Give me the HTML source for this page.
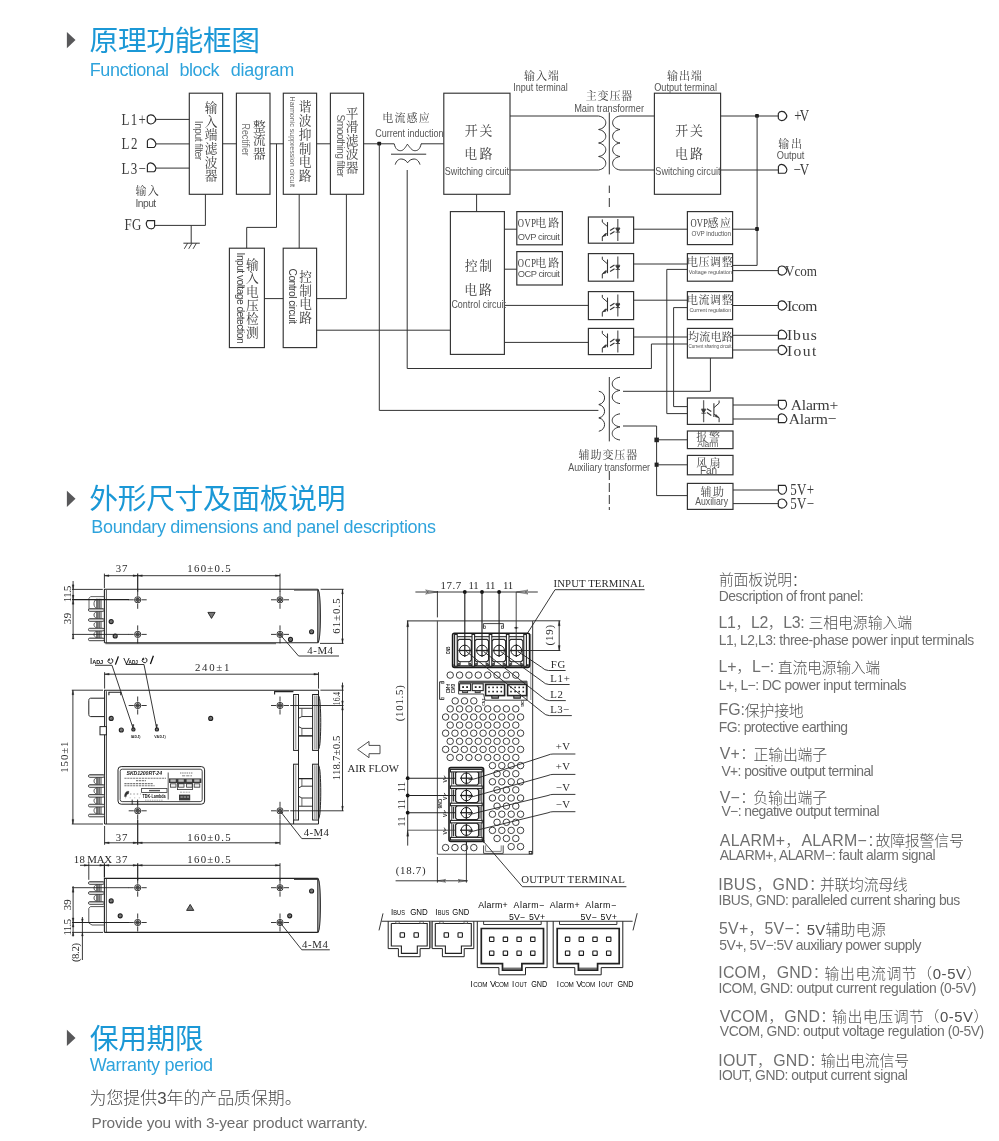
<!DOCTYPE html>
<html lang="zh-CN">
<head>
<meta charset="utf-8">
<title>原理功能框图 Functional block diagram</title>
<style>
html, body { margin: 0; padding: 0; background: #fff; }
body { width: 999px; height: 1141px; overflow: hidden; font-family: "Liberation Sans", "Noto Sans CJK SC", sans-serif; }
svg { display: block; will-change: transform; }
svg text { white-space: pre; }
</style>
</head>
<body>
<svg width="999" height="1141" viewBox="0 0 999 1141">
<path d="M66.90 32.00 L75.50 40.10 L66.90 48.20 Z" fill="#58585a" stroke="none" stroke-width="0" stroke-linejoin="miter"/>
<path d="M66.90 490.70 L75.50 498.80 L66.90 506.90 Z" fill="#58585a" stroke="none" stroke-width="0" stroke-linejoin="miter"/>
<path d="M66.90 1029.80 L75.50 1037.90 L66.90 1046.00 Z" fill="#58585a" stroke="none" stroke-width="0" stroke-linejoin="miter"/>
<rect x="189.30" y="93.20" width="33.30" height="101.10" fill="none" stroke="#333" stroke-width="1.15"/>
<rect x="236.40" y="93.20" width="33.60" height="101.10" fill="none" stroke="#333" stroke-width="1.15"/>
<rect x="283.30" y="93.20" width="33.30" height="101.10" fill="none" stroke="#333" stroke-width="1.15"/>
<rect x="330.40" y="93.20" width="33.20" height="101.10" fill="none" stroke="#333" stroke-width="1.15"/>
<rect x="443.80" y="93.20" width="66.20" height="101.10" fill="none" stroke="#333" stroke-width="1.15"/>
<rect x="654.40" y="93.20" width="66.20" height="101.10" fill="none" stroke="#333" stroke-width="1.15"/>
<rect x="229.40" y="248.20" width="35.00" height="99.40" fill="none" stroke="#333" stroke-width="1.15"/>
<rect x="283.20" y="248.20" width="33.40" height="99.40" fill="none" stroke="#333" stroke-width="1.15"/>
<rect x="450.40" y="211.60" width="54.00" height="142.80" fill="none" stroke="#333" stroke-width="1.15"/>
<rect x="516.80" y="211.60" width="45.60" height="33.20" fill="none" stroke="#333" stroke-width="1.2"/>
<rect x="516.80" y="251.60" width="45.60" height="33.40" fill="none" stroke="#333" stroke-width="1.2"/>
<rect x="588.40" y="217.00" width="45.20" height="26.20" fill="none" stroke="#333" stroke-width="1.2"/>
<path d="M602.30 219.40 L602.30 222.10 L607.50 226.60" fill="none" stroke="#333" stroke-width="1.0" stroke-linejoin="miter"/>
<line x1="607.50" y1="222.10" x2="607.50" y2="235.90" stroke="#333" stroke-width="1.1" stroke-linecap="butt"/>
<path d="M607.50 233.10 L602.30 236.70 L602.30 241.10" fill="none" stroke="#333" stroke-width="1.0" stroke-linejoin="miter"/>
<path d="M602.60 236.40 L605.50 233.30 L605.90 235.70 Z" fill="#333" stroke="#333" stroke-width="0.6" stroke-linejoin="miter"/>
<line x1="617.80" y1="219.10" x2="617.80" y2="241.10" stroke="#666" stroke-width="1.3" stroke-linecap="butt"/>
<path d="M615.70 228.50 L619.90 228.50 L617.80 231.70 Z" fill="#333" stroke="#333" stroke-width="0.8" stroke-linejoin="miter"/>
<line x1="615.60" y1="232.10" x2="620.00" y2="232.10" stroke="#333" stroke-width="0.9" stroke-linecap="butt"/>
<line x1="615.60" y1="227.90" x2="620.00" y2="227.90" stroke="#333" stroke-width="0.7" stroke-linecap="butt"/>
<line x1="610.10" y1="230.50" x2="614.50" y2="227.70" stroke="#333" stroke-width="1.2" stroke-linecap="butt"/>
<line x1="610.10" y1="234.30" x2="614.50" y2="231.50" stroke="#333" stroke-width="1.2" stroke-linecap="butt"/>
<rect x="588.40" y="253.60" width="45.20" height="27.60" fill="none" stroke="#333" stroke-width="1.2"/>
<path d="M602.30 256.70 L602.30 259.40 L607.50 263.90" fill="none" stroke="#333" stroke-width="1.0" stroke-linejoin="miter"/>
<line x1="607.50" y1="259.40" x2="607.50" y2="273.20" stroke="#333" stroke-width="1.1" stroke-linecap="butt"/>
<path d="M607.50 270.40 L602.30 274.00 L602.30 278.40" fill="none" stroke="#333" stroke-width="1.0" stroke-linejoin="miter"/>
<path d="M602.60 273.70 L605.50 270.60 L605.90 273.00 Z" fill="#333" stroke="#333" stroke-width="0.6" stroke-linejoin="miter"/>
<line x1="617.80" y1="256.40" x2="617.80" y2="278.40" stroke="#666" stroke-width="1.3" stroke-linecap="butt"/>
<path d="M615.70 265.80 L619.90 265.80 L617.80 269.00 Z" fill="#333" stroke="#333" stroke-width="0.8" stroke-linejoin="miter"/>
<line x1="615.60" y1="269.40" x2="620.00" y2="269.40" stroke="#333" stroke-width="0.9" stroke-linecap="butt"/>
<line x1="615.60" y1="265.20" x2="620.00" y2="265.20" stroke="#333" stroke-width="0.7" stroke-linecap="butt"/>
<line x1="610.10" y1="267.80" x2="614.50" y2="265.00" stroke="#333" stroke-width="1.2" stroke-linecap="butt"/>
<line x1="610.10" y1="271.60" x2="614.50" y2="268.80" stroke="#333" stroke-width="1.2" stroke-linecap="butt"/>
<rect x="588.40" y="291.60" width="45.20" height="28.00" fill="none" stroke="#333" stroke-width="1.2"/>
<path d="M602.30 294.90 L602.30 297.60 L607.50 302.10" fill="none" stroke="#333" stroke-width="1.0" stroke-linejoin="miter"/>
<line x1="607.50" y1="297.60" x2="607.50" y2="311.40" stroke="#333" stroke-width="1.1" stroke-linecap="butt"/>
<path d="M607.50 308.60 L602.30 312.20 L602.30 316.60" fill="none" stroke="#333" stroke-width="1.0" stroke-linejoin="miter"/>
<path d="M602.60 311.90 L605.50 308.80 L605.90 311.20 Z" fill="#333" stroke="#333" stroke-width="0.6" stroke-linejoin="miter"/>
<line x1="617.80" y1="294.60" x2="617.80" y2="316.60" stroke="#666" stroke-width="1.3" stroke-linecap="butt"/>
<path d="M615.70 304.00 L619.90 304.00 L617.80 307.20 Z" fill="#333" stroke="#333" stroke-width="0.8" stroke-linejoin="miter"/>
<line x1="615.60" y1="307.60" x2="620.00" y2="307.60" stroke="#333" stroke-width="0.9" stroke-linecap="butt"/>
<line x1="615.60" y1="303.40" x2="620.00" y2="303.40" stroke="#333" stroke-width="0.7" stroke-linecap="butt"/>
<line x1="610.10" y1="306.00" x2="614.50" y2="303.20" stroke="#333" stroke-width="1.2" stroke-linecap="butt"/>
<line x1="610.10" y1="309.80" x2="614.50" y2="307.00" stroke="#333" stroke-width="1.2" stroke-linecap="butt"/>
<rect x="588.40" y="328.40" width="45.20" height="26.20" fill="none" stroke="#333" stroke-width="1.2"/>
<path d="M602.30 330.80 L602.30 333.50 L607.50 338.00" fill="none" stroke="#333" stroke-width="1.0" stroke-linejoin="miter"/>
<line x1="607.50" y1="333.50" x2="607.50" y2="347.30" stroke="#333" stroke-width="1.1" stroke-linecap="butt"/>
<path d="M607.50 344.50 L602.30 348.10 L602.30 352.50" fill="none" stroke="#333" stroke-width="1.0" stroke-linejoin="miter"/>
<path d="M602.60 347.80 L605.50 344.70 L605.90 347.10 Z" fill="#333" stroke="#333" stroke-width="0.6" stroke-linejoin="miter"/>
<line x1="617.80" y1="330.50" x2="617.80" y2="352.50" stroke="#666" stroke-width="1.3" stroke-linecap="butt"/>
<path d="M615.70 339.90 L619.90 339.90 L617.80 343.10 Z" fill="#333" stroke="#333" stroke-width="0.8" stroke-linejoin="miter"/>
<line x1="615.60" y1="343.50" x2="620.00" y2="343.50" stroke="#333" stroke-width="0.9" stroke-linecap="butt"/>
<line x1="615.60" y1="339.30" x2="620.00" y2="339.30" stroke="#333" stroke-width="0.7" stroke-linecap="butt"/>
<line x1="610.10" y1="341.90" x2="614.50" y2="339.10" stroke="#333" stroke-width="1.2" stroke-linecap="butt"/>
<line x1="610.10" y1="345.70" x2="614.50" y2="342.90" stroke="#333" stroke-width="1.2" stroke-linecap="butt"/>
<rect x="687.40" y="211.60" width="45.20" height="33.00" fill="none" stroke="#333" stroke-width="1.2"/>
<rect x="687.40" y="253.60" width="45.20" height="27.60" fill="none" stroke="#333" stroke-width="1.2"/>
<rect x="687.40" y="291.60" width="45.20" height="28.00" fill="none" stroke="#333" stroke-width="1.2"/>
<rect x="687.40" y="328.40" width="45.20" height="29.60" fill="none" stroke="#333" stroke-width="1.2"/>
<rect x="687.40" y="398.00" width="45.60" height="26.40" fill="none" stroke="#333" stroke-width="1.2"/>
<path d="M719.10 400.50 L719.10 403.20 L713.90 407.70" fill="none" stroke="#333" stroke-width="1.0" stroke-linejoin="miter"/>
<line x1="713.90" y1="403.20" x2="713.90" y2="417.00" stroke="#333" stroke-width="1.1" stroke-linecap="butt"/>
<path d="M713.90 414.20 L719.10 417.80 L719.10 422.20" fill="none" stroke="#333" stroke-width="1.0" stroke-linejoin="miter"/>
<path d="M718.80 417.50 L715.90 414.40 L715.50 416.80 Z" fill="#333" stroke="#333" stroke-width="0.6" stroke-linejoin="miter"/>
<line x1="703.60" y1="400.20" x2="703.60" y2="422.20" stroke="#666" stroke-width="1.3" stroke-linecap="butt"/>
<path d="M705.70 409.60 L701.50 409.60 L703.60 412.80 Z" fill="#333" stroke="#333" stroke-width="0.8" stroke-linejoin="miter"/>
<line x1="705.80" y1="413.20" x2="701.40" y2="413.20" stroke="#333" stroke-width="0.9" stroke-linecap="butt"/>
<line x1="705.80" y1="409.00" x2="701.40" y2="409.00" stroke="#333" stroke-width="0.7" stroke-linecap="butt"/>
<line x1="711.30" y1="411.60" x2="706.90" y2="408.80" stroke="#333" stroke-width="1.2" stroke-linecap="butt"/>
<line x1="711.30" y1="415.40" x2="706.90" y2="412.60" stroke="#333" stroke-width="1.2" stroke-linecap="butt"/>
<rect x="687.40" y="431.00" width="45.60" height="17.60" fill="none" stroke="#333" stroke-width="1.2"/>
<rect x="687.40" y="455.40" width="45.60" height="19.40" fill="none" stroke="#333" stroke-width="1.2"/>
<rect x="687.40" y="483.40" width="45.60" height="26.00" fill="none" stroke="#333" stroke-width="1.2"/>
<path d="M147.30 117.00 L147.30 121.80 C148.20 124.40 152.80 125.00 154.80 121.80 C156.00 120.40 156.00 118.40 154.80 117.00 C152.80 113.80 148.20 114.40 147.30 117.00 Z" fill="none" stroke="#262626" stroke-width="1.15" />
<line x1="156.20" y1="119.40" x2="189.30" y2="119.40" stroke="#333" stroke-width="1.0" stroke-linecap="butt"/>
<path d="M147.40 147.50 L147.40 140.90 C148.50 137.60 154.20 137.90 155.90 143.70 C155.90 145.70 155.00 146.90 154.00 147.50 Z" fill="none" stroke="#262626" stroke-width="1.15" />
<line x1="156.00" y1="143.90" x2="189.30" y2="143.90" stroke="#333" stroke-width="1.0" stroke-linecap="butt"/>
<path d="M147.40 171.70 L147.40 165.10 C148.50 161.80 154.20 162.10 155.90 167.90 C155.90 169.90 155.00 171.10 154.00 171.70 Z" fill="none" stroke="#262626" stroke-width="1.15" />
<line x1="156.00" y1="168.10" x2="189.30" y2="168.10" stroke="#333" stroke-width="1.0" stroke-linecap="butt"/>
<path d="M154.6 220.6 L154.6 226.6 C153.5 229.6 148.3 229.8 146.6 225.6 C146.0 224.0 146.2 222.0 147.4 220.6 Z" fill="none" stroke="#262626" stroke-width="1.15" />
<path d="M155.00 225.40 L205.40 225.40 L205.40 194.30" fill="none" stroke="#333" stroke-width="1.0" stroke-linejoin="miter"/>
<line x1="191.20" y1="225.40" x2="191.20" y2="243.20" stroke="#333" stroke-width="1.0" stroke-linecap="butt"/>
<line x1="183.40" y1="243.20" x2="199.80" y2="243.20" stroke="#333" stroke-width="1.0" stroke-linecap="butt"/>
<line x1="187.60" y1="243.20" x2="184.30" y2="248.80" stroke="#333" stroke-width="0.9" stroke-linecap="butt"/>
<line x1="192.00" y1="243.20" x2="188.70" y2="248.80" stroke="#333" stroke-width="0.9" stroke-linecap="butt"/>
<line x1="196.40" y1="243.20" x2="193.10" y2="248.80" stroke="#333" stroke-width="0.9" stroke-linecap="butt"/>
<line x1="222.60" y1="143.80" x2="236.40" y2="143.80" stroke="#333" stroke-width="1.0" stroke-linecap="butt"/>
<line x1="270.00" y1="143.80" x2="283.30" y2="143.80" stroke="#333" stroke-width="1.0" stroke-linecap="butt"/>
<line x1="316.60" y1="143.80" x2="330.40" y2="143.80" stroke="#333" stroke-width="1.0" stroke-linecap="butt"/>
<line x1="363.60" y1="143.80" x2="394.20" y2="143.80" stroke="#333" stroke-width="1.0" stroke-linecap="butt"/>
<path d="M276.50 143.80 L276.50 227.40 L246.70 227.40 L246.70 248.20" fill="none" stroke="#333" stroke-width="1.0" stroke-linejoin="miter"/>
<line x1="299.20" y1="194.30" x2="299.20" y2="248.20" stroke="#333" stroke-width="1.0" stroke-linecap="butt"/>
<path d="M346.40 194.30 L346.40 298.60 L316.60 298.60" fill="none" stroke="#333" stroke-width="1.0" stroke-linejoin="miter"/>
<line x1="264.40" y1="298.60" x2="283.20" y2="298.60" stroke="#333" stroke-width="1.0" stroke-linecap="butt"/>
<line x1="316.60" y1="330.20" x2="450.40" y2="330.20" stroke="#333" stroke-width="1.0" stroke-linecap="butt"/>
<rect x="377.30" y="141.70" width="3.80" height="3.80" fill="#1c1c1c" stroke="none" stroke-width="0" rx="0.9"/>
<path d="M379.30 143.80 L379.30 410.40 L598.40 410.40" fill="none" stroke="#333" stroke-width="1.0" stroke-linejoin="miter"/>
<path d="M394.2 143.8 C395.6 149.8 398.4 150.7 400.6 150.7 C403.6 150.7 405.6 147.0 407.4 144.2 C409.6 147.0 411.8 150.7 414.8 150.7 C417.4 150.7 419.8 149.8 421.2 143.8" fill="none" stroke="#333" stroke-width="1.0" />
<line x1="421.00" y1="143.80" x2="443.80" y2="143.80" stroke="#333" stroke-width="1.0" stroke-linecap="butt"/>
<line x1="391.00" y1="154.20" x2="426.20" y2="154.20" stroke="#333" stroke-width="1.0" stroke-linecap="butt"/>
<path d="M395.2 164.6 C396.5 160.4 399.0 159.0 401.2 159.0 C404.0 159.0 406.2 160.6 407.6 162.8 C409.0 160.6 411.2 159.0 414.0 159.0 C416.2 159.0 418.7 160.4 420.0 164.6" fill="none" stroke="#333" stroke-width="1.0" />
<path d="M407.20 170.00 L407.20 368.50 L651.40 368.50 L651.40 344.00 L687.40 344.00" fill="none" stroke="#333" stroke-width="1.0" stroke-linejoin="miter"/>
<line x1="476.60" y1="194.30" x2="476.60" y2="211.60" stroke="#333" stroke-width="1.0" stroke-linecap="butt"/>
<line x1="510.00" y1="116.00" x2="598.60" y2="116.00" stroke="#333" stroke-width="1.0" stroke-linecap="butt"/>
<line x1="510.00" y1="170.00" x2="598.60" y2="170.00" stroke="#333" stroke-width="1.0" stroke-linecap="butt"/>
<path d="M598.60 116.00 C608.18 117.62 608.18 127.88 598.60 129.50 C608.18 131.12 608.18 141.38 598.60 143.00 C608.18 144.62 608.18 154.88 598.60 156.50 C608.18 158.12 608.18 168.38 598.60 170.00 " fill="none" stroke="#333" stroke-width="1.0" />
<line x1="609.30" y1="112.40" x2="609.30" y2="174.40" stroke="#333" stroke-width="1.0" stroke-linecap="butt"/>
<line x1="609.30" y1="185.60" x2="609.30" y2="193.00" stroke="#333" stroke-width="1.0" stroke-linecap="butt"/>
<line x1="609.30" y1="198.00" x2="609.30" y2="207.00" stroke="#333" stroke-width="1.0" stroke-linecap="butt"/>
<path d="M620.00 116.00 C610.16 117.62 610.16 127.88 620.00 129.50 C610.16 131.12 610.16 141.38 620.00 143.00 C610.16 144.62 610.16 154.88 620.00 156.50 C610.16 158.12 610.16 168.38 620.00 170.00 " fill="none" stroke="#333" stroke-width="1.0" />
<line x1="620.00" y1="116.00" x2="654.40" y2="116.00" stroke="#333" stroke-width="1.0" stroke-linecap="butt"/>
<line x1="620.00" y1="170.00" x2="654.40" y2="170.00" stroke="#333" stroke-width="1.0" stroke-linecap="butt"/>
<line x1="720.60" y1="116.00" x2="778.20" y2="116.00" stroke="#333" stroke-width="1.0" stroke-linecap="butt"/>
<line x1="720.60" y1="170.00" x2="778.20" y2="170.00" stroke="#333" stroke-width="1.0" stroke-linecap="butt"/>
<path d="M778.30 113.60 L778.30 118.40 C779.20 121.00 783.80 121.60 785.80 118.40 C787.00 117.00 787.00 115.00 785.80 113.60 C783.80 110.40 779.20 111.00 778.30 113.60 Z" fill="none" stroke="#262626" stroke-width="1.15" />
<path d="M778.40 173.20 L778.40 166.60 C779.50 163.30 785.20 163.60 786.90 169.40 C786.90 171.40 786.00 172.60 785.00 173.20 Z" fill="none" stroke="#262626" stroke-width="1.15" />
<rect x="755.10" y="113.90" width="3.80" height="3.80" fill="#1c1c1c" stroke="none" stroke-width="0" rx="0.9"/>
<path d="M757.10 116.00 L757.10 265.40 L732.60 265.40" fill="none" stroke="#333" stroke-width="1.0" stroke-linejoin="miter"/>
<rect x="755.10" y="227.10" width="3.80" height="3.80" fill="#1c1c1c" stroke="none" stroke-width="0" rx="0.9"/>
<line x1="732.60" y1="229.20" x2="757.10" y2="229.20" stroke="#333" stroke-width="1.0" stroke-linecap="butt"/>
<line x1="504.40" y1="229.20" x2="516.80" y2="229.20" stroke="#333" stroke-width="1.0" stroke-linecap="butt"/>
<line x1="504.40" y1="269.20" x2="516.80" y2="269.20" stroke="#333" stroke-width="1.0" stroke-linecap="butt"/>
<line x1="504.40" y1="305.40" x2="588.40" y2="305.40" stroke="#333" stroke-width="1.0" stroke-linecap="butt"/>
<line x1="504.40" y1="342.40" x2="588.40" y2="342.40" stroke="#333" stroke-width="1.0" stroke-linecap="butt"/>
<line x1="633.60" y1="229.20" x2="687.40" y2="229.20" stroke="#333" stroke-width="1.0" stroke-linecap="butt"/>
<line x1="633.60" y1="264.00" x2="687.40" y2="264.00" stroke="#333" stroke-width="1.0" stroke-linecap="butt"/>
<line x1="633.60" y1="300.20" x2="687.40" y2="300.20" stroke="#333" stroke-width="1.0" stroke-linecap="butt"/>
<line x1="633.60" y1="337.00" x2="687.40" y2="337.00" stroke="#333" stroke-width="1.0" stroke-linecap="butt"/>
<line x1="732.60" y1="270.60" x2="778.20" y2="270.60" stroke="#333" stroke-width="1.0" stroke-linecap="butt"/>
<path d="M778.30 268.20 L778.30 273.00 C779.20 275.60 783.80 276.20 785.80 273.00 C787.00 271.60 787.00 269.60 785.80 268.20 C783.80 265.00 779.20 265.60 778.30 268.20 Z" fill="none" stroke="#262626" stroke-width="1.15" />
<line x1="732.60" y1="305.50" x2="778.20" y2="305.50" stroke="#333" stroke-width="1.0" stroke-linecap="butt"/>
<path d="M778.30 303.10 L778.30 307.90 C779.20 310.50 783.80 311.10 785.80 307.90 C787.00 306.50 787.00 304.50 785.80 303.10 C783.80 299.90 779.20 300.50 778.30 303.10 Z" fill="none" stroke="#262626" stroke-width="1.15" />
<line x1="732.60" y1="335.30" x2="778.20" y2="335.30" stroke="#333" stroke-width="1.0" stroke-linecap="butt"/>
<path d="M778.40 338.90 L778.40 332.30 C779.50 329.00 785.20 329.30 786.90 335.10 C786.90 337.10 786.00 338.30 785.00 338.90 Z" fill="none" stroke="#262626" stroke-width="1.15" />
<line x1="732.60" y1="350.00" x2="778.20" y2="350.00" stroke="#333" stroke-width="1.0" stroke-linecap="butt"/>
<path d="M778.30 347.60 L778.30 352.40 C779.20 355.00 783.80 355.60 785.80 352.40 C787.00 351.00 787.00 349.00 785.80 347.60 C783.80 344.40 779.20 345.00 778.30 347.60 Z" fill="none" stroke="#262626" stroke-width="1.15" />
<path d="M687.40 269.40 L666.80 269.40 L666.80 413.60 L687.40 413.60" fill="none" stroke="#333" stroke-width="1.0" stroke-linejoin="miter"/>
<path d="M687.40 307.60 L673.60 307.60 L673.60 406.60 L687.40 406.60" fill="none" stroke="#333" stroke-width="1.0" stroke-linejoin="miter"/>
<path d="M710.40 358.00 L710.40 391.30 L623.00 391.30" fill="none" stroke="#333" stroke-width="1.0" stroke-linejoin="miter"/>
<line x1="609.30" y1="377.00" x2="609.30" y2="441.40" stroke="#333" stroke-width="1.0" stroke-linecap="butt"/>
<path d="M598.80 391.20 C606.51 392.80 606.51 402.96 598.80 404.57 C606.51 406.17 606.51 416.33 598.80 417.93 C606.51 419.54 606.51 429.70 598.80 431.30 " fill="none" stroke="#333" stroke-width="1.0" />
<path d="M620.00 377.20 C609.63 378.78 609.63 388.82 620.00 390.40 C609.63 391.98 609.63 402.02 620.00 403.60 " fill="none" stroke="#333" stroke-width="1.0" />
<path d="M620.00 413.80 C609.63 415.37 609.63 425.33 620.00 426.90 C609.63 428.47 609.63 438.43 620.00 440.00 " fill="none" stroke="#333" stroke-width="1.0" />
<path d="M623.00 426.00 L656.60 426.00 L656.60 495.60 L687.40 495.60" fill="none" stroke="#333" stroke-width="1.0" stroke-linejoin="miter"/>
<rect x="654.40" y="437.60" width="4.50" height="4.60" fill="#222" stroke="none" stroke-width="0"/>
<line x1="656.60" y1="439.80" x2="687.40" y2="439.80" stroke="#333" stroke-width="1.0" stroke-linecap="butt"/>
<rect x="654.60" y="462.60" width="4.00" height="4.20" fill="#222" stroke="none" stroke-width="0"/>
<line x1="656.60" y1="464.80" x2="687.40" y2="464.80" stroke="#333" stroke-width="1.0" stroke-linecap="butt"/>
<line x1="609.30" y1="471.00" x2="609.30" y2="480.00" stroke="#333" stroke-width="1.0" stroke-linecap="butt"/>
<line x1="609.30" y1="483.00" x2="609.30" y2="492.00" stroke="#333" stroke-width="1.0" stroke-linecap="butt"/>
<line x1="609.30" y1="495.00" x2="609.30" y2="504.00" stroke="#333" stroke-width="1.0" stroke-linecap="butt"/>
<line x1="609.30" y1="507.00" x2="609.30" y2="510.00" stroke="#333" stroke-width="1.0" stroke-linecap="butt"/>
<line x1="733.00" y1="405.00" x2="778.20" y2="405.00" stroke="#333" stroke-width="1.0" stroke-linecap="butt"/>
<path d="M778.40 400.40 L785.20 400.40 C787.30 402.50 787.00 407.00 784.20 408.80 C781.50 410.00 778.80 408.40 778.40 406.00 Z" fill="none" stroke="#262626" stroke-width="1.15" />
<line x1="733.00" y1="419.00" x2="778.20" y2="419.00" stroke="#333" stroke-width="1.0" stroke-linecap="butt"/>
<path d="M778.40 422.60 L778.40 416.00 C779.50 412.70 785.20 413.00 786.90 418.80 C786.90 420.80 786.00 422.00 785.00 422.60 Z" fill="none" stroke="#262626" stroke-width="1.15" />
<line x1="733.00" y1="490.00" x2="778.20" y2="490.00" stroke="#333" stroke-width="1.0" stroke-linecap="butt"/>
<path d="M778.40 485.40 L785.20 485.40 C787.30 487.50 787.00 492.00 784.20 493.80 C781.50 495.00 778.80 493.40 778.40 491.00 Z" fill="none" stroke="#262626" stroke-width="1.15" />
<line x1="733.00" y1="503.60" x2="778.20" y2="503.60" stroke="#333" stroke-width="1.0" stroke-linecap="butt"/>
<path d="M778.30 501.20 L778.30 506.00 C779.20 508.60 783.80 509.20 785.80 506.00 C787.00 504.60 787.00 502.60 785.80 501.20 C783.80 498.00 779.20 498.60 778.30 501.20 Z" fill="none" stroke="#262626" stroke-width="1.15" />
<text x="204.85 204.85 204.85 204.85 204.85 204.85" y="112.36 125.92 139.49 153.06 166.62 180.19" font-family='"Liberation Serif", "Noto Serif CJK SC", serif' font-size="12.7" fill="#3c3c3c">输入端滤波器</text>
<text x="253.05 253.05 253.05" y="130.91 144.37 157.84" font-family='"Liberation Serif", "Noto Serif CJK SC", serif' font-size="12.7" fill="#3c3c3c">整流器</text>
<text x="298.65 298.65 298.65 298.65 298.65 298.65" y="111.44 125.17 138.91 152.64 166.37 180.11" font-family='"Liberation Serif", "Noto Serif CJK SC", serif' font-size="12.7" fill="#3c3c3c">谐波抑制电路</text>
<text x="345.65 345.65 345.65 345.65 345.65" y="117.73 131.25 144.77 158.29 171.81" font-family='"Liberation Serif", "Noto Serif CJK SC", serif' font-size="12.7" fill="#3c3c3c">平滑滤波器</text>
<text x="246.05 246.05 246.05 246.05 246.05 246.05" y="268.77 282.37 295.97 309.57 323.17 336.77" font-family='"Liberation Serif", "Noto Serif CJK SC", serif' font-size="12.7" fill="#3c3c3c">输入电压检测</text>
<text x="299.25 299.25 299.25 299.25" y="281.32 294.82 308.32 321.82" font-family='"Liberation Serif", "Noto Serif CJK SC", serif' font-size="12.7" fill="#3c3c3c">控制电路</text>
<path d="M104.40 642.80 L104.40 589.30 L317.80 589.30" fill="none" stroke="#222" stroke-width="1.1" stroke-linejoin="miter"/>
<line x1="106.40" y1="589.80" x2="106.40" y2="642.80" stroke="#444" stroke-width="0.9" stroke-linecap="butt"/>
<line x1="104.40" y1="642.80" x2="317.80" y2="642.80" stroke="#222" stroke-width="1.1" stroke-linecap="butt"/>
<path d="M317.80 589.30 C321.20 592.30 321.20 639.80 317.80 642.80" fill="none" stroke="#222" stroke-width="1.1" />
<line x1="317.80" y1="589.30" x2="317.80" y2="642.80" stroke="#222" stroke-width="1.1" stroke-linecap="butt"/>
<line x1="319.10" y1="592.30" x2="319.10" y2="639.80" stroke="#555" stroke-width="0.8" stroke-linecap="butt"/>
<line x1="105.40" y1="643.70" x2="276.00" y2="643.70" stroke="#444" stroke-width="0.9" stroke-linecap="butt"/>
<line x1="294.00" y1="590.20" x2="317.80" y2="590.20" stroke="#444" stroke-width="0.9" stroke-linecap="butt"/>
<path d="M104.40 596.60 L90.60 596.60 L89.00 598.20 L89.00 610.00" fill="none" stroke="#555" stroke-width="0.9" stroke-linejoin="miter"/>
<rect x="96.80" y="598.80" width="3.00" height="10.00" fill="#8a8a8a" stroke="none" stroke-width="0"/>
<line x1="96.80" y1="598.80" x2="96.80" y2="608.80" stroke="#333" stroke-width="0.9" stroke-linecap="butt"/>
<line x1="100.00" y1="598.80" x2="100.00" y2="608.80" stroke="#333" stroke-width="0.9" stroke-linecap="butt"/>
<line x1="101.40" y1="598.80" x2="101.40" y2="608.80" stroke="#666" stroke-width="0.7" stroke-linecap="butt"/>
<path d="M96.40 599.40 C93.20 600.40 93.20 607.20 96.40 608.20" fill="none" stroke="#444" stroke-width="0.9" />
<rect x="96.80" y="611.20" width="3.00" height="7.60" fill="#8a8a8a" stroke="none" stroke-width="0"/>
<line x1="96.80" y1="611.20" x2="96.80" y2="618.80" stroke="#333" stroke-width="0.9" stroke-linecap="butt"/>
<line x1="100.00" y1="611.20" x2="100.00" y2="618.80" stroke="#333" stroke-width="0.9" stroke-linecap="butt"/>
<line x1="101.40" y1="611.20" x2="101.40" y2="618.80" stroke="#666" stroke-width="0.7" stroke-linecap="butt"/>
<path d="M96.40 611.80 C93.20 612.80 93.20 617.20 96.40 618.20" fill="none" stroke="#444" stroke-width="0.9" />
<rect x="96.80" y="621.20" width="3.00" height="7.20" fill="#8a8a8a" stroke="none" stroke-width="0"/>
<line x1="96.80" y1="621.20" x2="96.80" y2="628.40" stroke="#333" stroke-width="0.9" stroke-linecap="butt"/>
<line x1="100.00" y1="621.20" x2="100.00" y2="628.40" stroke="#333" stroke-width="0.9" stroke-linecap="butt"/>
<line x1="101.40" y1="621.20" x2="101.40" y2="628.40" stroke="#666" stroke-width="0.7" stroke-linecap="butt"/>
<path d="M96.40 621.80 C93.20 622.80 93.20 626.80 96.40 627.80" fill="none" stroke="#444" stroke-width="0.9" />
<rect x="96.80" y="630.80" width="3.00" height="7.40" fill="#8a8a8a" stroke="none" stroke-width="0"/>
<line x1="96.80" y1="630.80" x2="96.80" y2="638.20" stroke="#333" stroke-width="0.9" stroke-linecap="butt"/>
<line x1="100.00" y1="630.80" x2="100.00" y2="638.20" stroke="#333" stroke-width="0.9" stroke-linecap="butt"/>
<line x1="101.40" y1="630.80" x2="101.40" y2="638.20" stroke="#666" stroke-width="0.7" stroke-linecap="butt"/>
<path d="M96.40 631.40 C93.20 632.40 93.20 636.60 96.40 637.60" fill="none" stroke="#444" stroke-width="0.9" />
<rect x="88.50" y="608.70" width="15.70" height="2.60" fill="#fff" stroke="#2a2a2a" stroke-width="0.9" rx="1.2"/>
<line x1="89.40" y1="609.10" x2="103.40" y2="609.10" stroke="#666" stroke-width="0.7" stroke-linecap="butt"/>
<rect x="88.50" y="618.70" width="15.70" height="2.60" fill="#fff" stroke="#2a2a2a" stroke-width="0.9" rx="1.2"/>
<line x1="89.40" y1="619.10" x2="103.40" y2="619.10" stroke="#666" stroke-width="0.7" stroke-linecap="butt"/>
<rect x="88.50" y="628.30" width="15.70" height="2.60" fill="#fff" stroke="#2a2a2a" stroke-width="0.9" rx="1.2"/>
<line x1="89.40" y1="628.70" x2="103.40" y2="628.70" stroke="#666" stroke-width="0.7" stroke-linecap="butt"/>
<rect x="88.50" y="638.10" width="15.70" height="2.60" fill="#fff" stroke="#2a2a2a" stroke-width="0.9" rx="1.2"/>
<line x1="89.40" y1="638.50" x2="103.40" y2="638.50" stroke="#666" stroke-width="0.7" stroke-linecap="butt"/>
<circle cx="137.70" cy="599.80" r="3.10" fill="none" stroke="#222" stroke-width="0.9"/>
<circle cx="137.70" cy="599.80" r="1.71" fill="#999" stroke="#222" stroke-width="0.8"/>
<line x1="128.70" y1="599.80" x2="133.80" y2="599.80" stroke="#222" stroke-width="0.9" stroke-linecap="butt"/>
<line x1="141.60" y1="599.80" x2="146.70" y2="599.80" stroke="#222" stroke-width="0.9" stroke-linecap="butt"/>
<line x1="137.70" y1="590.80" x2="137.70" y2="595.90" stroke="#222" stroke-width="0.9" stroke-linecap="butt"/>
<line x1="137.70" y1="603.70" x2="137.70" y2="608.80" stroke="#222" stroke-width="0.9" stroke-linecap="butt"/>
<line x1="134.60" y1="599.80" x2="140.80" y2="599.80" stroke="#222" stroke-width="0.6" stroke-linecap="butt"/>
<line x1="137.70" y1="596.70" x2="137.70" y2="602.90" stroke="#222" stroke-width="0.6" stroke-linecap="butt"/>
<circle cx="137.70" cy="634.40" r="3.10" fill="none" stroke="#222" stroke-width="0.9"/>
<circle cx="137.70" cy="634.40" r="1.71" fill="#999" stroke="#222" stroke-width="0.8"/>
<line x1="128.70" y1="634.40" x2="133.80" y2="634.40" stroke="#222" stroke-width="0.9" stroke-linecap="butt"/>
<line x1="141.60" y1="634.40" x2="146.70" y2="634.40" stroke="#222" stroke-width="0.9" stroke-linecap="butt"/>
<line x1="137.70" y1="625.40" x2="137.70" y2="630.50" stroke="#222" stroke-width="0.9" stroke-linecap="butt"/>
<line x1="137.70" y1="638.30" x2="137.70" y2="643.40" stroke="#222" stroke-width="0.9" stroke-linecap="butt"/>
<line x1="134.60" y1="634.40" x2="140.80" y2="634.40" stroke="#222" stroke-width="0.6" stroke-linecap="butt"/>
<line x1="137.70" y1="631.30" x2="137.70" y2="637.50" stroke="#222" stroke-width="0.6" stroke-linecap="butt"/>
<circle cx="280.00" cy="599.80" r="3.10" fill="none" stroke="#222" stroke-width="0.9"/>
<circle cx="280.00" cy="599.80" r="1.71" fill="#999" stroke="#222" stroke-width="0.8"/>
<line x1="271.00" y1="599.80" x2="276.10" y2="599.80" stroke="#222" stroke-width="0.9" stroke-linecap="butt"/>
<line x1="283.90" y1="599.80" x2="289.00" y2="599.80" stroke="#222" stroke-width="0.9" stroke-linecap="butt"/>
<line x1="280.00" y1="590.80" x2="280.00" y2="595.90" stroke="#222" stroke-width="0.9" stroke-linecap="butt"/>
<line x1="280.00" y1="603.70" x2="280.00" y2="608.80" stroke="#222" stroke-width="0.9" stroke-linecap="butt"/>
<line x1="276.90" y1="599.80" x2="283.10" y2="599.80" stroke="#222" stroke-width="0.6" stroke-linecap="butt"/>
<line x1="280.00" y1="596.70" x2="280.00" y2="602.90" stroke="#222" stroke-width="0.6" stroke-linecap="butt"/>
<circle cx="280.00" cy="634.40" r="3.10" fill="none" stroke="#222" stroke-width="0.9"/>
<circle cx="280.00" cy="634.40" r="1.71" fill="#999" stroke="#222" stroke-width="0.8"/>
<line x1="271.00" y1="634.40" x2="276.10" y2="634.40" stroke="#222" stroke-width="0.9" stroke-linecap="butt"/>
<line x1="283.90" y1="634.40" x2="289.00" y2="634.40" stroke="#222" stroke-width="0.9" stroke-linecap="butt"/>
<line x1="280.00" y1="625.40" x2="280.00" y2="630.50" stroke="#222" stroke-width="0.9" stroke-linecap="butt"/>
<line x1="280.00" y1="638.30" x2="280.00" y2="643.40" stroke="#222" stroke-width="0.9" stroke-linecap="butt"/>
<line x1="276.90" y1="634.40" x2="283.10" y2="634.40" stroke="#222" stroke-width="0.6" stroke-linecap="butt"/>
<line x1="280.00" y1="631.30" x2="280.00" y2="637.50" stroke="#222" stroke-width="0.6" stroke-linecap="butt"/>
<circle cx="111.20" cy="621.60" r="2.00" fill="#8a8a8a" stroke="#222" stroke-width="1.15"/>
<line x1="110.00" y1="620.40" x2="112.40" y2="622.80" stroke="#333" stroke-width="0.5" stroke-linecap="butt"/>
<circle cx="115.20" cy="636.00" r="2.00" fill="#8a8a8a" stroke="#222" stroke-width="1.15"/>
<line x1="114.00" y1="634.80" x2="116.40" y2="637.20" stroke="#333" stroke-width="0.5" stroke-linecap="butt"/>
<circle cx="311.60" cy="631.70" r="2.00" fill="#8a8a8a" stroke="#222" stroke-width="1.15"/>
<line x1="310.40" y1="630.50" x2="312.80" y2="632.90" stroke="#333" stroke-width="0.5" stroke-linecap="butt"/>
<circle cx="290.50" cy="639.40" r="2.00" fill="#8a8a8a" stroke="#222" stroke-width="1.15"/>
<line x1="289.30" y1="638.20" x2="291.70" y2="640.60" stroke="#333" stroke-width="0.5" stroke-linecap="butt"/>
<path d="M207.90 612.40 L215.10 612.40 L211.50 618.40 Z" fill="#777" stroke="#222" stroke-width="0.9" stroke-linejoin="miter"/>
<line x1="104.40" y1="575.70" x2="280.00" y2="575.70" stroke="#222" stroke-width="0.9" stroke-linecap="butt"/>
<line x1="104.40" y1="573.60" x2="104.40" y2="588.00" stroke="#222" stroke-width="0.9" stroke-linecap="butt"/>
<line x1="137.70" y1="573.60" x2="137.70" y2="591.60" stroke="#222" stroke-width="1.2" stroke-linecap="butt"/>
<line x1="280.00" y1="573.60" x2="280.00" y2="591.60" stroke="#222" stroke-width="0.9" stroke-linecap="butt"/>
<path d="M104.40 575.70 L109.00 574.80 L109.00 576.60 Z" fill="#222" stroke="#222" stroke-width="0.3" stroke-linejoin="miter"/>
<path d="M137.70 575.70 L133.10 574.80 L133.10 576.60 Z" fill="#222" stroke="#222" stroke-width="0.3" stroke-linejoin="miter"/>
<path d="M137.70 575.70 L142.30 574.80 L142.30 576.60 Z" fill="#222" stroke="#222" stroke-width="0.3" stroke-linejoin="miter"/>
<path d="M280.00 575.70 L275.40 574.80 L275.40 576.60 Z" fill="#222" stroke="#222" stroke-width="0.3" stroke-linejoin="miter"/>
<line x1="73.10" y1="581.00" x2="73.10" y2="636.80" stroke="#222" stroke-width="0.9" stroke-linecap="butt"/>
<line x1="72.00" y1="589.40" x2="102.80" y2="589.40" stroke="#222" stroke-width="0.9" stroke-linecap="butt"/>
<line x1="72.00" y1="599.70" x2="129.00" y2="599.70" stroke="#222" stroke-width="1.2" stroke-linecap="butt"/>
<line x1="72.00" y1="634.40" x2="129.00" y2="634.40" stroke="#222" stroke-width="0.9" stroke-linecap="butt"/>
<path d="M73.10 589.40 L72.20 584.80 L74.00 584.80 Z" fill="#222" stroke="#222" stroke-width="0.3" stroke-linejoin="miter"/>
<path d="M73.10 599.70 L72.20 604.30 L74.00 604.30 Z" fill="#222" stroke="#222" stroke-width="0.3" stroke-linejoin="miter"/>
<path d="M73.10 599.70 L72.20 595.10 L74.00 595.10 Z" fill="#222" stroke="#222" stroke-width="0.3" stroke-linejoin="miter"/>
<path d="M73.10 634.40 L72.20 639.00 L74.00 639.00 Z" fill="#222" stroke="#222" stroke-width="0.3" stroke-linejoin="miter"/>
<line x1="342.50" y1="589.30" x2="342.50" y2="643.40" stroke="#222" stroke-width="0.9" stroke-linecap="butt"/>
<line x1="320.60" y1="589.30" x2="343.60" y2="589.30" stroke="#222" stroke-width="0.9" stroke-linecap="butt"/>
<line x1="320.00" y1="643.40" x2="343.60" y2="643.40" stroke="#222" stroke-width="0.9" stroke-linecap="butt"/>
<path d="M342.50 589.30 L341.60 593.90 L343.40 593.90 Z" fill="#222" stroke="#222" stroke-width="0.3" stroke-linejoin="miter"/>
<path d="M342.50 643.40 L341.60 638.80 L343.40 638.80 Z" fill="#222" stroke="#222" stroke-width="0.3" stroke-linejoin="miter"/>
<path d="M280.60 635.20 L298.60 656.00 L339.00 656.00" fill="none" stroke="#222" stroke-width="0.9" stroke-linejoin="miter"/>
<path d="M104.60 824.00 L104.60 690.20 L318.50 690.20" fill="none" stroke="#222" stroke-width="1.1" stroke-linejoin="miter"/>
<line x1="106.50" y1="691.20" x2="106.50" y2="824.00" stroke="#444" stroke-width="0.9" stroke-linecap="butt"/>
<line x1="104.60" y1="824.00" x2="318.50" y2="824.00" stroke="#222" stroke-width="1.1" stroke-linecap="butt"/>
<line x1="318.50" y1="690.20" x2="318.50" y2="694.50" stroke="#222" stroke-width="1.0" stroke-linecap="butt"/>
<line x1="318.50" y1="820.00" x2="318.50" y2="824.00" stroke="#222" stroke-width="1.0" stroke-linecap="butt"/>
<line x1="293.60" y1="820.00" x2="293.60" y2="824.00" stroke="#222" stroke-width="1.0" stroke-linecap="butt"/>
<path d="M108.90 695.20 L108.90 692.20 L120.80 692.20 L120.80 695.20" fill="none" stroke="#222" stroke-width="1.1" stroke-linejoin="miter"/>
<path d="M274.60 694.60 L274.60 691.60 L293.40 691.60" fill="none" stroke="#222" stroke-width="1.1" stroke-linejoin="miter"/>
<rect x="293.60" y="694.50" width="4.90" height="55.90" fill="none" stroke="#222" stroke-width="1.0"/>
<line x1="295.80" y1="695.50" x2="295.80" y2="749.40" stroke="#555" stroke-width="0.7" stroke-linecap="butt"/>
<rect x="312.60" y="694.50" width="5.90" height="55.90" fill="none" stroke="#222" stroke-width="1.0"/>
<line x1="314.90" y1="695.50" x2="314.90" y2="749.40" stroke="#555" stroke-width="0.8" stroke-linecap="butt"/>
<line x1="316.90" y1="695.50" x2="316.90" y2="749.40" stroke="#444" stroke-width="0.8" stroke-linecap="butt"/>
<path d="M318.50 695.50 C321.50 698.50 321.50 746.40 318.50 749.40" fill="none" stroke="#222" stroke-width="1.0" />
<line x1="319.70" y1="699.50" x2="319.70" y2="745.40" stroke="#555" stroke-width="0.8" stroke-linecap="butt"/>
<line x1="298.50" y1="708.31" x2="312.60" y2="708.31" stroke="#222" stroke-width="0.9" stroke-linecap="butt"/>
<path d="M298.50 718.33 L301.90 716.53 L312.60 716.53" fill="none" stroke="#222" stroke-width="0.9" stroke-linejoin="miter"/>
<path d="M298.50 726.57 L301.90 728.37 L312.60 728.37" fill="none" stroke="#222" stroke-width="0.9" stroke-linejoin="miter"/>
<line x1="298.50" y1="735.87" x2="312.60" y2="735.87" stroke="#222" stroke-width="0.9" stroke-linecap="butt"/>
<line x1="301.90" y1="708.31" x2="301.90" y2="716.53" stroke="#444" stroke-width="0.8" stroke-linecap="butt"/>
<line x1="301.90" y1="728.37" x2="301.90" y2="735.87" stroke="#444" stroke-width="0.8" stroke-linecap="butt"/>
<rect x="293.60" y="764.20" width="4.90" height="55.80" fill="none" stroke="#222" stroke-width="1.0"/>
<line x1="295.80" y1="765.20" x2="295.80" y2="819.00" stroke="#555" stroke-width="0.7" stroke-linecap="butt"/>
<rect x="312.60" y="764.20" width="5.90" height="55.80" fill="none" stroke="#222" stroke-width="1.0"/>
<line x1="314.90" y1="765.20" x2="314.90" y2="819.00" stroke="#555" stroke-width="0.8" stroke-linecap="butt"/>
<line x1="316.90" y1="765.20" x2="316.90" y2="819.00" stroke="#444" stroke-width="0.8" stroke-linecap="butt"/>
<path d="M318.50 765.20 C321.50 768.20 321.50 816.00 318.50 819.00" fill="none" stroke="#222" stroke-width="1.0" />
<line x1="319.70" y1="769.20" x2="319.70" y2="815.00" stroke="#555" stroke-width="0.8" stroke-linecap="butt"/>
<line x1="298.50" y1="778.71" x2="312.60" y2="778.71" stroke="#222" stroke-width="0.9" stroke-linecap="butt"/>
<path d="M298.50 787.99 L301.90 786.19 L312.60 786.19" fill="none" stroke="#222" stroke-width="0.9" stroke-linejoin="miter"/>
<path d="M298.50 796.21 L301.90 798.01 L312.60 798.01" fill="none" stroke="#222" stroke-width="0.9" stroke-linejoin="miter"/>
<line x1="298.50" y1="806.22" x2="312.60" y2="806.22" stroke="#222" stroke-width="0.9" stroke-linecap="butt"/>
<line x1="301.90" y1="778.71" x2="301.90" y2="786.19" stroke="#444" stroke-width="0.8" stroke-linecap="butt"/>
<line x1="301.90" y1="798.01" x2="301.90" y2="806.22" stroke="#444" stroke-width="0.8" stroke-linecap="butt"/>
<line x1="298.50" y1="735.90" x2="312.60" y2="735.90" stroke="#222" stroke-width="1.0" stroke-linecap="butt"/>
<line x1="298.50" y1="778.60" x2="312.60" y2="778.60" stroke="#222" stroke-width="1.0" stroke-linecap="butt"/>
<line x1="298.50" y1="750.40" x2="298.50" y2="764.20" stroke="#222" stroke-width="1.0" stroke-linecap="butt"/>
<line x1="318.50" y1="750.40" x2="318.50" y2="764.20" stroke="#222" stroke-width="1.0" stroke-linecap="butt"/>
<path d="M104.6 698.2 L90.6 698.2 C89.2 698.4 88.8 699.2 88.8 700.4 L88.8 714.4 C88.8 715.8 89.4 716.4 90.6 716.6 L104.6 716.6" fill="none" stroke="#222" stroke-width="1.0" />
<rect x="100.00" y="726.60" width="6.40" height="8.20" fill="#fff" stroke="#222" stroke-width="1.0"/>
<rect x="96.80" y="777.20" width="3.00" height="7.60" fill="#8a8a8a" stroke="none" stroke-width="0"/>
<line x1="96.80" y1="777.20" x2="96.80" y2="784.80" stroke="#333" stroke-width="0.9" stroke-linecap="butt"/>
<line x1="100.00" y1="777.20" x2="100.00" y2="784.80" stroke="#333" stroke-width="0.9" stroke-linecap="butt"/>
<line x1="101.40" y1="777.20" x2="101.40" y2="784.80" stroke="#666" stroke-width="0.7" stroke-linecap="butt"/>
<path d="M96.40 777.80 C93.20 778.80 93.20 783.20 96.40 784.20" fill="none" stroke="#444" stroke-width="0.9" />
<rect x="96.80" y="787.20" width="3.00" height="7.40" fill="#8a8a8a" stroke="none" stroke-width="0"/>
<line x1="96.80" y1="787.20" x2="96.80" y2="794.60" stroke="#333" stroke-width="0.9" stroke-linecap="butt"/>
<line x1="100.00" y1="787.20" x2="100.00" y2="794.60" stroke="#333" stroke-width="0.9" stroke-linecap="butt"/>
<line x1="101.40" y1="787.20" x2="101.40" y2="794.60" stroke="#666" stroke-width="0.7" stroke-linecap="butt"/>
<path d="M96.40 787.80 C93.20 788.80 93.20 793.00 96.40 794.00" fill="none" stroke="#444" stroke-width="0.9" />
<rect x="96.80" y="797.00" width="3.00" height="7.40" fill="#8a8a8a" stroke="none" stroke-width="0"/>
<line x1="96.80" y1="797.00" x2="96.80" y2="804.40" stroke="#333" stroke-width="0.9" stroke-linecap="butt"/>
<line x1="100.00" y1="797.00" x2="100.00" y2="804.40" stroke="#333" stroke-width="0.9" stroke-linecap="butt"/>
<line x1="101.40" y1="797.00" x2="101.40" y2="804.40" stroke="#666" stroke-width="0.7" stroke-linecap="butt"/>
<path d="M96.40 797.60 C93.20 798.60 93.20 802.80 96.40 803.80" fill="none" stroke="#444" stroke-width="0.9" />
<rect x="96.80" y="806.80" width="3.00" height="7.50" fill="#8a8a8a" stroke="none" stroke-width="0"/>
<line x1="96.80" y1="806.80" x2="96.80" y2="814.30" stroke="#333" stroke-width="0.9" stroke-linecap="butt"/>
<line x1="100.00" y1="806.80" x2="100.00" y2="814.30" stroke="#333" stroke-width="0.9" stroke-linecap="butt"/>
<line x1="101.40" y1="806.80" x2="101.40" y2="814.30" stroke="#666" stroke-width="0.7" stroke-linecap="butt"/>
<path d="M96.40 807.40 C93.20 808.40 93.20 812.70 96.40 813.70" fill="none" stroke="#444" stroke-width="0.9" />
<rect x="88.50" y="774.70" width="15.90" height="2.60" fill="#fff" stroke="#2a2a2a" stroke-width="0.9" rx="1.2"/>
<line x1="89.40" y1="775.10" x2="103.60" y2="775.10" stroke="#666" stroke-width="0.7" stroke-linecap="butt"/>
<rect x="88.50" y="784.70" width="15.90" height="2.60" fill="#fff" stroke="#2a2a2a" stroke-width="0.9" rx="1.2"/>
<line x1="89.40" y1="785.10" x2="103.60" y2="785.10" stroke="#666" stroke-width="0.7" stroke-linecap="butt"/>
<rect x="88.50" y="794.50" width="15.90" height="2.60" fill="#fff" stroke="#2a2a2a" stroke-width="0.9" rx="1.2"/>
<line x1="89.40" y1="794.90" x2="103.60" y2="794.90" stroke="#666" stroke-width="0.7" stroke-linecap="butt"/>
<rect x="88.50" y="804.30" width="15.90" height="2.60" fill="#fff" stroke="#2a2a2a" stroke-width="0.9" rx="1.2"/>
<line x1="89.40" y1="804.70" x2="103.60" y2="804.70" stroke="#666" stroke-width="0.7" stroke-linecap="butt"/>
<rect x="88.50" y="814.20" width="15.90" height="2.60" fill="#fff" stroke="#2a2a2a" stroke-width="0.9" rx="1.2"/>
<line x1="89.40" y1="814.60" x2="103.60" y2="814.60" stroke="#666" stroke-width="0.7" stroke-linecap="butt"/>
<circle cx="137.70" cy="705.50" r="3.10" fill="none" stroke="#222" stroke-width="0.9"/>
<circle cx="137.70" cy="705.50" r="1.71" fill="#999" stroke="#222" stroke-width="0.8"/>
<line x1="128.70" y1="705.50" x2="133.80" y2="705.50" stroke="#222" stroke-width="0.9" stroke-linecap="butt"/>
<line x1="141.60" y1="705.50" x2="146.70" y2="705.50" stroke="#222" stroke-width="0.9" stroke-linecap="butt"/>
<line x1="137.70" y1="696.50" x2="137.70" y2="701.60" stroke="#222" stroke-width="0.9" stroke-linecap="butt"/>
<line x1="137.70" y1="709.40" x2="137.70" y2="714.50" stroke="#222" stroke-width="0.9" stroke-linecap="butt"/>
<line x1="134.60" y1="705.50" x2="140.80" y2="705.50" stroke="#222" stroke-width="0.6" stroke-linecap="butt"/>
<line x1="137.70" y1="702.40" x2="137.70" y2="708.60" stroke="#222" stroke-width="0.6" stroke-linecap="butt"/>
<circle cx="280.00" cy="705.50" r="3.10" fill="none" stroke="#222" stroke-width="0.9"/>
<circle cx="280.00" cy="705.50" r="1.71" fill="#999" stroke="#222" stroke-width="0.8"/>
<line x1="271.00" y1="705.50" x2="276.10" y2="705.50" stroke="#222" stroke-width="0.9" stroke-linecap="butt"/>
<line x1="283.90" y1="705.50" x2="289.00" y2="705.50" stroke="#222" stroke-width="0.9" stroke-linecap="butt"/>
<line x1="280.00" y1="696.50" x2="280.00" y2="701.60" stroke="#222" stroke-width="0.9" stroke-linecap="butt"/>
<line x1="280.00" y1="709.40" x2="280.00" y2="714.50" stroke="#222" stroke-width="0.9" stroke-linecap="butt"/>
<line x1="276.90" y1="705.50" x2="283.10" y2="705.50" stroke="#222" stroke-width="0.6" stroke-linecap="butt"/>
<line x1="280.00" y1="702.40" x2="280.00" y2="708.60" stroke="#222" stroke-width="0.6" stroke-linecap="butt"/>
<circle cx="137.70" cy="810.80" r="3.10" fill="none" stroke="#222" stroke-width="0.9"/>
<circle cx="137.70" cy="810.80" r="1.71" fill="#999" stroke="#222" stroke-width="0.8"/>
<line x1="128.70" y1="810.80" x2="133.80" y2="810.80" stroke="#222" stroke-width="0.9" stroke-linecap="butt"/>
<line x1="141.60" y1="810.80" x2="146.70" y2="810.80" stroke="#222" stroke-width="0.9" stroke-linecap="butt"/>
<line x1="137.70" y1="801.80" x2="137.70" y2="806.90" stroke="#222" stroke-width="0.9" stroke-linecap="butt"/>
<line x1="137.70" y1="814.70" x2="137.70" y2="819.80" stroke="#222" stroke-width="0.9" stroke-linecap="butt"/>
<line x1="134.60" y1="810.80" x2="140.80" y2="810.80" stroke="#222" stroke-width="0.6" stroke-linecap="butt"/>
<line x1="137.70" y1="807.70" x2="137.70" y2="813.90" stroke="#222" stroke-width="0.6" stroke-linecap="butt"/>
<circle cx="280.00" cy="810.80" r="3.10" fill="none" stroke="#222" stroke-width="0.9"/>
<circle cx="280.00" cy="810.80" r="1.71" fill="#999" stroke="#222" stroke-width="0.8"/>
<line x1="271.00" y1="810.80" x2="276.10" y2="810.80" stroke="#222" stroke-width="0.9" stroke-linecap="butt"/>
<line x1="283.90" y1="810.80" x2="289.00" y2="810.80" stroke="#222" stroke-width="0.9" stroke-linecap="butt"/>
<line x1="280.00" y1="801.80" x2="280.00" y2="806.90" stroke="#222" stroke-width="0.9" stroke-linecap="butt"/>
<line x1="280.00" y1="814.70" x2="280.00" y2="819.80" stroke="#222" stroke-width="0.9" stroke-linecap="butt"/>
<line x1="276.90" y1="810.80" x2="283.10" y2="810.80" stroke="#222" stroke-width="0.6" stroke-linecap="butt"/>
<line x1="280.00" y1="807.70" x2="280.00" y2="813.90" stroke="#222" stroke-width="0.6" stroke-linecap="butt"/>
<circle cx="111.20" cy="718.40" r="2.00" fill="#8a8a8a" stroke="#222" stroke-width="1.15"/>
<line x1="110.00" y1="717.20" x2="112.40" y2="719.60" stroke="#333" stroke-width="0.5" stroke-linecap="butt"/>
<circle cx="121.30" cy="730.00" r="2.00" fill="#8a8a8a" stroke="#222" stroke-width="1.15"/>
<line x1="120.10" y1="728.80" x2="122.50" y2="731.20" stroke="#333" stroke-width="0.5" stroke-linecap="butt"/>
<circle cx="210.70" cy="718.40" r="2.00" fill="#8a8a8a" stroke="#222" stroke-width="1.15"/>
<line x1="209.50" y1="717.20" x2="211.90" y2="719.60" stroke="#333" stroke-width="0.5" stroke-linecap="butt"/>
<circle cx="133.40" cy="729.40" r="1.60" fill="#8a8a8a" stroke="#222" stroke-width="1.15"/>
<line x1="132.44" y1="728.44" x2="134.36" y2="730.36" stroke="#333" stroke-width="0.5" stroke-linecap="butt"/>
<circle cx="156.90" cy="729.40" r="1.60" fill="#8a8a8a" stroke="#222" stroke-width="1.15"/>
<line x1="155.94" y1="728.44" x2="157.86" y2="730.36" stroke="#333" stroke-width="0.5" stroke-linecap="butt"/>
<path d="M95.00 665.30 L112.00 665.30 L133.00 728.00" fill="none" stroke="#222" stroke-width="0.9" stroke-linejoin="miter"/>
<path d="M125.80 664.50 L144.00 664.50 L156.60 728.00" fill="none" stroke="#222" stroke-width="0.9" stroke-linejoin="miter"/>
<path d="M133.20 728.60 L132.40 724.60 L134.00 724.60 Z" fill="#222" stroke="#222" stroke-width="0.3" stroke-linejoin="miter"/>
<path d="M156.80 728.60 L156.00 724.60 L157.60 724.60 Z" fill="#222" stroke="#222" stroke-width="0.3" stroke-linejoin="miter"/>
<path d="M108.6 659.4 A2.4 2.4 0 1 0 111.0 658.6" fill="none" stroke="#222" stroke-width="1.0" />
<path d="M108.00 659.60 L109.60 658.40 L109.80 660.60 Z" fill="#222" stroke="#222" stroke-width="0.4" stroke-linejoin="miter"/>
<line x1="115.40" y1="664.60" x2="118.40" y2="656.40" stroke="#111" stroke-width="1.3" stroke-linecap="butt"/>
<path d="M142.8 658.8 A2.4 2.4 0 1 0 145.2 658.0" fill="none" stroke="#222" stroke-width="1.0" />
<path d="M142.20 659.00 L143.80 657.80 L144.00 660.00 Z" fill="#222" stroke="#222" stroke-width="0.4" stroke-linejoin="miter"/>
<line x1="150.40" y1="664.00" x2="153.40" y2="655.80" stroke="#111" stroke-width="1.3" stroke-linecap="butt"/>
<rect x="118.00" y="766.60" width="86.60" height="37.60" fill="none" stroke="#222" stroke-width="1.0" rx="3.2"/>
<rect x="120.20" y="769.20" width="82.00" height="32.40" fill="none" stroke="#333" stroke-width="0.9" rx="2.0"/>
<line x1="124.40" y1="778.20" x2="166.00" y2="778.20" stroke="#777" stroke-width="1.1" stroke-linecap="butt" stroke-dasharray="2.2 0.7"/>
<line x1="136.00" y1="780.60" x2="146.00" y2="780.60" stroke="#888" stroke-width="1.1" stroke-linecap="butt" stroke-dasharray="2.2 0.7"/>
<line x1="124.40" y1="783.60" x2="153.40" y2="783.60" stroke="#777" stroke-width="1.1" stroke-linecap="butt" stroke-dasharray="2.2 0.7"/>
<line x1="124.40" y1="785.80" x2="154.60" y2="785.80" stroke="#777" stroke-width="1.1" stroke-linecap="butt" stroke-dasharray="2.2 0.7"/>
<rect x="141.60" y="788.60" width="25.40" height="4.00" fill="none" stroke="#333" stroke-width="0.8"/>
<line x1="149.00" y1="790.60" x2="160.00" y2="790.60" stroke="#555" stroke-width="1.4" stroke-linecap="butt"/>
<line x1="145.00" y1="800.20" x2="163.00" y2="800.20" stroke="#888" stroke-width="0.7" stroke-linecap="butt" stroke-dasharray="1.5 0.8"/>
<path d="M124.4 796.6 C124.6 792.6 126.8 790.8 129.0 791.4 L128.4 794.0 C127.4 793.6 126.4 794.6 126.2 796.8 Z" fill="#333" stroke="#222" stroke-width="0.3" />
<line x1="130.00" y1="794.00" x2="141.00" y2="794.00" stroke="#777" stroke-width="0.8" stroke-linecap="butt" stroke-dasharray="1.4 2.0"/>
<line x1="125.00" y1="797.80" x2="141.00" y2="797.80" stroke="#999" stroke-width="0.7" stroke-linecap="butt" stroke-dasharray="1.0 3.6"/>
<line x1="168.20" y1="772.40" x2="168.20" y2="799.60" stroke="#666" stroke-width="1.1" stroke-linecap="butt"/>
<line x1="180.00" y1="773.00" x2="193.00" y2="773.00" stroke="#666" stroke-width="0.9" stroke-linecap="butt" stroke-dasharray="1.4 0.8"/>
<line x1="182.00" y1="775.80" x2="192.00" y2="775.80" stroke="#777" stroke-width="0.9" stroke-linecap="butt" stroke-dasharray="3.2 1.0"/>
<rect x="169.00" y="778.40" width="32.40" height="4.60" fill="#3a3a3a" stroke="none" stroke-width="0"/>
<rect x="170.40" y="779.40" width="5.40" height="2.40" fill="#bbb" stroke="none" stroke-width="0"/>
<rect x="170.40" y="783.80" width="5.60" height="3.40" fill="#eee" stroke="#333" stroke-width="0.8"/>
<rect x="178.40" y="779.40" width="5.40" height="2.40" fill="#bbb" stroke="none" stroke-width="0"/>
<rect x="178.40" y="783.80" width="5.60" height="3.40" fill="#eee" stroke="#333" stroke-width="0.8"/>
<rect x="186.60" y="779.40" width="5.40" height="2.40" fill="#bbb" stroke="none" stroke-width="0"/>
<rect x="186.60" y="783.80" width="5.60" height="3.40" fill="#eee" stroke="#333" stroke-width="0.8"/>
<rect x="194.20" y="779.40" width="5.40" height="2.40" fill="#bbb" stroke="none" stroke-width="0"/>
<rect x="194.20" y="783.80" width="5.60" height="3.40" fill="#eee" stroke="#333" stroke-width="0.8"/>
<rect x="177.40" y="783.40" width="15.20" height="6.20" fill="none" stroke="#333" stroke-width="0.8"/>
<line x1="180.00" y1="792.20" x2="190.00" y2="792.20" stroke="#888" stroke-width="0.7" stroke-linecap="butt" stroke-dasharray="2 0.8"/>
<rect x="179.00" y="794.60" width="11.20" height="5.80" fill="#3a3a3a" stroke="none" stroke-width="0"/>
<line x1="180.40" y1="797.00" x2="189.00" y2="797.00" stroke="#ccc" stroke-width="0.9" stroke-linecap="butt" stroke-dasharray="2.4 0.8"/>
<line x1="132.20" y1="799.60" x2="132.20" y2="804.60" stroke="#222" stroke-width="0.9" stroke-linecap="butt"/>
<line x1="137.60" y1="799.60" x2="137.60" y2="804.60" stroke="#222" stroke-width="0.9" stroke-linecap="butt"/>
<line x1="104.60" y1="674.20" x2="318.50" y2="674.20" stroke="#222" stroke-width="0.9" stroke-linecap="butt"/>
<line x1="104.60" y1="672.20" x2="104.60" y2="688.60" stroke="#222" stroke-width="0.9" stroke-linecap="butt"/>
<line x1="318.50" y1="672.20" x2="318.50" y2="688.60" stroke="#222" stroke-width="0.9" stroke-linecap="butt"/>
<path d="M104.60 674.20 L109.20 673.30 L109.20 675.10 Z" fill="#222" stroke="#222" stroke-width="0.3" stroke-linejoin="miter"/>
<path d="M318.50 674.20 L313.90 673.30 L313.90 675.10 Z" fill="#222" stroke="#222" stroke-width="0.3" stroke-linejoin="miter"/>
<line x1="72.90" y1="690.20" x2="72.90" y2="824.00" stroke="#222" stroke-width="0.9" stroke-linecap="butt"/>
<line x1="71.80" y1="690.20" x2="103.00" y2="690.20" stroke="#222" stroke-width="0.9" stroke-linecap="butt"/>
<line x1="71.80" y1="824.00" x2="103.00" y2="824.00" stroke="#222" stroke-width="0.9" stroke-linecap="butt"/>
<path d="M72.90 690.20 L72.00 694.80 L73.80 694.80 Z" fill="#222" stroke="#222" stroke-width="0.3" stroke-linejoin="miter"/>
<path d="M72.90 824.00 L72.00 819.40 L73.80 819.40 Z" fill="#222" stroke="#222" stroke-width="0.3" stroke-linejoin="miter"/>
<line x1="342.50" y1="682.60" x2="342.50" y2="811.00" stroke="#222" stroke-width="0.9" stroke-linecap="butt"/>
<line x1="320.40" y1="690.20" x2="343.60" y2="690.20" stroke="#222" stroke-width="0.9" stroke-linecap="butt"/>
<line x1="290.20" y1="705.50" x2="343.60" y2="705.50" stroke="#222" stroke-width="0.9" stroke-linecap="butt"/>
<line x1="290.20" y1="810.80" x2="343.60" y2="810.80" stroke="#222" stroke-width="0.9" stroke-linecap="butt"/>
<path d="M342.50 690.20 L341.60 685.60 L343.40 685.60 Z" fill="#222" stroke="#222" stroke-width="0.3" stroke-linejoin="miter"/>
<path d="M342.50 705.50 L341.60 710.10 L343.40 710.10 Z" fill="#222" stroke="#222" stroke-width="0.3" stroke-linejoin="miter"/>
<path d="M342.50 705.50 L341.60 700.90 L343.40 700.90 Z" fill="#222" stroke="#222" stroke-width="0.3" stroke-linejoin="miter"/>
<path d="M342.50 810.80 L341.60 806.20 L343.40 806.20 Z" fill="#222" stroke="#222" stroke-width="0.3" stroke-linejoin="miter"/>
<line x1="104.60" y1="842.80" x2="280.00" y2="842.80" stroke="#222" stroke-width="0.9" stroke-linecap="butt"/>
<line x1="104.60" y1="826.00" x2="104.60" y2="844.80" stroke="#222" stroke-width="0.9" stroke-linecap="butt"/>
<line x1="137.70" y1="820.00" x2="137.70" y2="844.80" stroke="#222" stroke-width="1.2" stroke-linecap="butt"/>
<line x1="280.00" y1="820.00" x2="280.00" y2="844.80" stroke="#222" stroke-width="0.9" stroke-linecap="butt"/>
<path d="M104.60 842.80 L109.20 841.90 L109.20 843.70 Z" fill="#222" stroke="#222" stroke-width="0.3" stroke-linejoin="miter"/>
<path d="M137.70 842.80 L133.10 841.90 L133.10 843.70 Z" fill="#222" stroke="#222" stroke-width="0.3" stroke-linejoin="miter"/>
<path d="M137.70 842.80 L142.30 841.90 L142.30 843.70 Z" fill="#222" stroke="#222" stroke-width="0.3" stroke-linejoin="miter"/>
<path d="M280.00 842.80 L275.40 841.90 L275.40 843.70 Z" fill="#222" stroke="#222" stroke-width="0.3" stroke-linejoin="miter"/>
<path d="M280.60 811.60 L301.80 838.60 L321.00 838.60" fill="none" stroke="#222" stroke-width="0.9" stroke-linejoin="miter"/>
<path d="M104.40 932.40 L104.40 878.40 L317.80 878.40" fill="none" stroke="#222" stroke-width="1.1" stroke-linejoin="miter"/>
<line x1="106.40" y1="878.90" x2="106.40" y2="932.40" stroke="#444" stroke-width="0.9" stroke-linecap="butt"/>
<line x1="104.40" y1="932.40" x2="317.80" y2="932.40" stroke="#222" stroke-width="1.1" stroke-linecap="butt"/>
<path d="M317.80 878.40 C321.20 881.40 321.20 929.40 317.80 932.40" fill="none" stroke="#222" stroke-width="1.1" />
<line x1="317.80" y1="878.40" x2="317.80" y2="932.40" stroke="#222" stroke-width="1.1" stroke-linecap="butt"/>
<line x1="319.10" y1="881.40" x2="319.10" y2="929.40" stroke="#555" stroke-width="0.8" stroke-linecap="butt"/>
<line x1="294.00" y1="879.30" x2="317.80" y2="879.30" stroke="#333" stroke-width="1.2" stroke-linecap="butt"/>
<rect x="96.80" y="884.20" width="3.00" height="7.60" fill="#8a8a8a" stroke="none" stroke-width="0"/>
<line x1="96.80" y1="884.20" x2="96.80" y2="891.80" stroke="#333" stroke-width="0.9" stroke-linecap="butt"/>
<line x1="100.00" y1="884.20" x2="100.00" y2="891.80" stroke="#333" stroke-width="0.9" stroke-linecap="butt"/>
<line x1="101.40" y1="884.20" x2="101.40" y2="891.80" stroke="#666" stroke-width="0.7" stroke-linecap="butt"/>
<path d="M96.40 884.80 C93.20 885.80 93.20 890.20 96.40 891.20" fill="none" stroke="#444" stroke-width="0.9" />
<rect x="96.80" y="894.20" width="3.00" height="7.60" fill="#8a8a8a" stroke="none" stroke-width="0"/>
<line x1="96.80" y1="894.20" x2="96.80" y2="901.80" stroke="#333" stroke-width="0.9" stroke-linecap="butt"/>
<line x1="100.00" y1="894.20" x2="100.00" y2="901.80" stroke="#333" stroke-width="0.9" stroke-linecap="butt"/>
<line x1="101.40" y1="894.20" x2="101.40" y2="901.80" stroke="#666" stroke-width="0.7" stroke-linecap="butt"/>
<path d="M96.40 894.80 C93.20 895.80 93.20 900.20 96.40 901.20" fill="none" stroke="#444" stroke-width="0.9" />
<rect x="88.50" y="881.70" width="15.70" height="2.60" fill="#fff" stroke="#2a2a2a" stroke-width="0.9" rx="1.2"/>
<line x1="89.40" y1="882.10" x2="103.40" y2="882.10" stroke="#666" stroke-width="0.7" stroke-linecap="butt"/>
<rect x="88.50" y="891.70" width="15.70" height="2.60" fill="#fff" stroke="#2a2a2a" stroke-width="0.9" rx="1.2"/>
<line x1="89.40" y1="892.10" x2="103.40" y2="892.10" stroke="#666" stroke-width="0.7" stroke-linecap="butt"/>
<rect x="88.50" y="901.70" width="15.70" height="2.60" fill="#fff" stroke="#2a2a2a" stroke-width="0.9" rx="1.2"/>
<line x1="89.40" y1="902.10" x2="103.40" y2="902.10" stroke="#666" stroke-width="0.7" stroke-linecap="butt"/>
<path d="M104.40 906.60 L90.40 906.60 L88.80 908.40 L88.80 923.00 L92.00 925.00 L104.40 925.00" fill="none" stroke="#444" stroke-width="0.9" stroke-linejoin="miter"/>
<circle cx="137.70" cy="887.70" r="3.10" fill="none" stroke="#222" stroke-width="0.9"/>
<circle cx="137.70" cy="887.70" r="1.71" fill="#999" stroke="#222" stroke-width="0.8"/>
<line x1="128.70" y1="887.70" x2="133.80" y2="887.70" stroke="#222" stroke-width="0.9" stroke-linecap="butt"/>
<line x1="141.60" y1="887.70" x2="146.70" y2="887.70" stroke="#222" stroke-width="0.9" stroke-linecap="butt"/>
<line x1="137.70" y1="878.70" x2="137.70" y2="883.80" stroke="#222" stroke-width="0.9" stroke-linecap="butt"/>
<line x1="137.70" y1="891.60" x2="137.70" y2="896.70" stroke="#222" stroke-width="0.9" stroke-linecap="butt"/>
<line x1="134.60" y1="887.70" x2="140.80" y2="887.70" stroke="#222" stroke-width="0.6" stroke-linecap="butt"/>
<line x1="137.70" y1="884.60" x2="137.70" y2="890.80" stroke="#222" stroke-width="0.6" stroke-linecap="butt"/>
<circle cx="137.70" cy="922.50" r="3.10" fill="none" stroke="#222" stroke-width="0.9"/>
<circle cx="137.70" cy="922.50" r="1.71" fill="#999" stroke="#222" stroke-width="0.8"/>
<line x1="128.70" y1="922.50" x2="133.80" y2="922.50" stroke="#222" stroke-width="0.9" stroke-linecap="butt"/>
<line x1="141.60" y1="922.50" x2="146.70" y2="922.50" stroke="#222" stroke-width="0.9" stroke-linecap="butt"/>
<line x1="137.70" y1="913.50" x2="137.70" y2="918.60" stroke="#222" stroke-width="0.9" stroke-linecap="butt"/>
<line x1="137.70" y1="926.40" x2="137.70" y2="931.50" stroke="#222" stroke-width="0.9" stroke-linecap="butt"/>
<line x1="134.60" y1="922.50" x2="140.80" y2="922.50" stroke="#222" stroke-width="0.6" stroke-linecap="butt"/>
<line x1="137.70" y1="919.40" x2="137.70" y2="925.60" stroke="#222" stroke-width="0.6" stroke-linecap="butt"/>
<circle cx="280.00" cy="887.70" r="3.10" fill="none" stroke="#222" stroke-width="0.9"/>
<circle cx="280.00" cy="887.70" r="1.71" fill="#999" stroke="#222" stroke-width="0.8"/>
<line x1="271.00" y1="887.70" x2="276.10" y2="887.70" stroke="#222" stroke-width="0.9" stroke-linecap="butt"/>
<line x1="283.90" y1="887.70" x2="289.00" y2="887.70" stroke="#222" stroke-width="0.9" stroke-linecap="butt"/>
<line x1="280.00" y1="878.70" x2="280.00" y2="883.80" stroke="#222" stroke-width="0.9" stroke-linecap="butt"/>
<line x1="280.00" y1="891.60" x2="280.00" y2="896.70" stroke="#222" stroke-width="0.9" stroke-linecap="butt"/>
<line x1="276.90" y1="887.70" x2="283.10" y2="887.70" stroke="#222" stroke-width="0.6" stroke-linecap="butt"/>
<line x1="280.00" y1="884.60" x2="280.00" y2="890.80" stroke="#222" stroke-width="0.6" stroke-linecap="butt"/>
<circle cx="280.00" cy="922.50" r="3.10" fill="none" stroke="#222" stroke-width="0.9"/>
<circle cx="280.00" cy="922.50" r="1.71" fill="#999" stroke="#222" stroke-width="0.8"/>
<line x1="271.00" y1="922.50" x2="276.10" y2="922.50" stroke="#222" stroke-width="0.9" stroke-linecap="butt"/>
<line x1="283.90" y1="922.50" x2="289.00" y2="922.50" stroke="#222" stroke-width="0.9" stroke-linecap="butt"/>
<line x1="280.00" y1="913.50" x2="280.00" y2="918.60" stroke="#222" stroke-width="0.9" stroke-linecap="butt"/>
<line x1="280.00" y1="926.40" x2="280.00" y2="931.50" stroke="#222" stroke-width="0.9" stroke-linecap="butt"/>
<line x1="276.90" y1="922.50" x2="283.10" y2="922.50" stroke="#222" stroke-width="0.6" stroke-linecap="butt"/>
<line x1="280.00" y1="919.40" x2="280.00" y2="925.60" stroke="#222" stroke-width="0.6" stroke-linecap="butt"/>
<circle cx="111.20" cy="900.90" r="2.00" fill="#8a8a8a" stroke="#222" stroke-width="1.15"/>
<line x1="110.00" y1="899.70" x2="112.40" y2="902.10" stroke="#333" stroke-width="0.5" stroke-linecap="butt"/>
<circle cx="120.20" cy="915.80" r="2.00" fill="#8a8a8a" stroke="#222" stroke-width="1.15"/>
<line x1="119.00" y1="914.60" x2="121.40" y2="917.00" stroke="#333" stroke-width="0.5" stroke-linecap="butt"/>
<circle cx="311.60" cy="891.00" r="2.00" fill="#8a8a8a" stroke="#222" stroke-width="1.15"/>
<line x1="310.40" y1="889.80" x2="312.80" y2="892.20" stroke="#333" stroke-width="0.5" stroke-linecap="butt"/>
<circle cx="289.70" cy="915.80" r="2.00" fill="#8a8a8a" stroke="#222" stroke-width="1.15"/>
<line x1="288.50" y1="914.60" x2="290.90" y2="917.00" stroke="#333" stroke-width="0.5" stroke-linecap="butt"/>
<path d="M186.60 910.40 L193.80 910.40 L190.20 904.40 Z" fill="#777" stroke="#222" stroke-width="0.9" stroke-linejoin="miter"/>
<line x1="80.00" y1="865.30" x2="280.00" y2="865.30" stroke="#222" stroke-width="0.9" stroke-linecap="butt"/>
<line x1="88.80" y1="863.20" x2="88.80" y2="879.80" stroke="#222" stroke-width="0.9" stroke-linecap="butt"/>
<line x1="104.40" y1="863.20" x2="104.40" y2="877.60" stroke="#222" stroke-width="1.2" stroke-linecap="butt"/>
<line x1="137.70" y1="863.20" x2="137.70" y2="880.60" stroke="#222" stroke-width="1.2" stroke-linecap="butt"/>
<line x1="280.00" y1="863.20" x2="280.00" y2="880.60" stroke="#222" stroke-width="0.9" stroke-linecap="butt"/>
<path d="M88.80 865.30 L84.20 864.40 L84.20 866.20 Z" fill="#222" stroke="#222" stroke-width="0.3" stroke-linejoin="miter"/>
<path d="M104.40 865.30 L109.00 864.40 L109.00 866.20 Z" fill="#222" stroke="#222" stroke-width="0.3" stroke-linejoin="miter"/>
<path d="M104.40 865.30 L99.80 864.40 L99.80 866.20 Z" fill="#222" stroke="#222" stroke-width="0.3" stroke-linejoin="miter"/>
<path d="M137.70 865.30 L133.10 864.40 L133.10 866.20 Z" fill="#222" stroke="#222" stroke-width="0.3" stroke-linejoin="miter"/>
<path d="M137.70 865.30 L142.30 864.40 L142.30 866.20 Z" fill="#222" stroke="#222" stroke-width="0.3" stroke-linejoin="miter"/>
<path d="M280.00 865.30 L275.40 864.40 L275.40 866.20 Z" fill="#222" stroke="#222" stroke-width="0.3" stroke-linejoin="miter"/>
<line x1="73.10" y1="886.00" x2="73.10" y2="936.40" stroke="#222" stroke-width="0.9" stroke-linecap="butt"/>
<line x1="72.00" y1="887.70" x2="129.00" y2="887.70" stroke="#222" stroke-width="0.9" stroke-linecap="butt"/>
<line x1="72.00" y1="922.50" x2="129.00" y2="922.50" stroke="#222" stroke-width="1.2" stroke-linecap="butt"/>
<line x1="72.00" y1="932.40" x2="103.00" y2="932.40" stroke="#222" stroke-width="0.9" stroke-linecap="butt"/>
<path d="M73.10 887.70 L72.20 892.30 L74.00 892.30 Z" fill="#222" stroke="#222" stroke-width="0.3" stroke-linejoin="miter"/>
<path d="M73.10 922.50 L72.20 917.90 L74.00 917.90 Z" fill="#222" stroke="#222" stroke-width="0.3" stroke-linejoin="miter"/>
<path d="M73.10 922.50 L72.20 927.10 L74.00 927.10 Z" fill="#222" stroke="#222" stroke-width="0.3" stroke-linejoin="miter"/>
<path d="M73.10 932.40 L72.20 935.80 L74.00 935.80 Z" fill="#222" stroke="#222" stroke-width="0.3" stroke-linejoin="miter"/>
<line x1="82.40" y1="917.00" x2="82.40" y2="960.00" stroke="#222" stroke-width="0.9" stroke-linecap="butt"/>
<path d="M82.40 922.50 L81.50 918.90 L83.30 918.90 Z" fill="#222" stroke="#222" stroke-width="0.3" stroke-linejoin="miter"/>
<path d="M82.40 932.40 L81.50 936.00 L83.30 936.00 Z" fill="#222" stroke="#222" stroke-width="0.3" stroke-linejoin="miter"/>
<path d="M280.60 923.20 L301.80 949.80 L329.80 949.80" fill="none" stroke="#222" stroke-width="0.9" stroke-linejoin="miter"/>
<line x1="406.90" y1="620.80" x2="532.60" y2="620.80" stroke="#555" stroke-width="1.2" stroke-linecap="butt"/>
<line x1="437.40" y1="620.80" x2="437.40" y2="854.20" stroke="#555" stroke-width="1.1" stroke-linecap="butt"/>
<line x1="532.60" y1="620.80" x2="532.60" y2="854.20" stroke="#555" stroke-width="1.2" stroke-linecap="butt"/>
<line x1="530.80" y1="634.00" x2="530.80" y2="700.00" stroke="#777" stroke-width="0.8" stroke-linecap="butt"/>
<line x1="437.40" y1="854.20" x2="532.60" y2="854.20" stroke="#555" stroke-width="1.1" stroke-linecap="butt"/>
<rect x="529.20" y="851.40" width="2.60" height="2.40" fill="none" stroke="#222" stroke-width="0.9"/>
<path d="M483.40 628.20 L483.40 623.60 L503.40 623.60 L503.40 628.20" fill="none" stroke="#444" stroke-width="1.0" stroke-linejoin="miter"/>
<rect x="483.40" y="626.00" width="2.00" height="2.40" fill="none" stroke="#444" stroke-width="0.7"/>
<rect x="501.40" y="626.00" width="2.00" height="2.40" fill="none" stroke="#444" stroke-width="0.7"/>
<rect x="452.60" y="633.20" width="77.00" height="34.20" fill="#fff" stroke="#1a1a1a" stroke-width="1.6" rx="1.8"/>
<line x1="453.40" y1="665.40" x2="528.80" y2="665.40" stroke="#2a2a2a" stroke-width="2.2" stroke-linecap="butt"/>
<line x1="457.00" y1="636.60" x2="526.00" y2="636.60" stroke="#444" stroke-width="1.3" stroke-linecap="butt"/>
<path d="M459.20 639.40 L469.80 639.40 L471.40 641.00 L471.40 660.00 L469.80 661.60 L459.20 661.60 L457.60 660.00 L457.60 641.00 Z" fill="none" stroke="#2a2a2a" stroke-width="1.25" stroke-linejoin="miter"/>
<line x1="458.00" y1="663.60" x2="471.00" y2="663.60" stroke="#444" stroke-width="1.3" stroke-linecap="butt"/>
<rect x="460.20" y="661.80" width="8.60" height="3.80" fill="#fff" stroke="#444" stroke-width="0.8"/>
<path d="M476.40 639.40 L487.00 639.40 L488.60 641.00 L488.60 660.00 L487.00 661.60 L476.40 661.60 L474.80 660.00 L474.80 641.00 Z" fill="none" stroke="#2a2a2a" stroke-width="1.25" stroke-linejoin="miter"/>
<line x1="475.20" y1="663.60" x2="488.20" y2="663.60" stroke="#444" stroke-width="1.3" stroke-linecap="butt"/>
<rect x="477.40" y="661.80" width="8.60" height="3.80" fill="#fff" stroke="#444" stroke-width="0.8"/>
<path d="M493.50 639.40 L504.10 639.40 L505.70 641.00 L505.70 660.00 L504.10 661.60 L493.50 661.60 L491.90 660.00 L491.90 641.00 Z" fill="none" stroke="#2a2a2a" stroke-width="1.25" stroke-linejoin="miter"/>
<line x1="492.30" y1="663.60" x2="505.30" y2="663.60" stroke="#444" stroke-width="1.3" stroke-linecap="butt"/>
<rect x="494.50" y="661.80" width="8.60" height="3.80" fill="#fff" stroke="#444" stroke-width="0.8"/>
<path d="M510.70 639.40 L521.30 639.40 L522.90 641.00 L522.90 660.00 L521.30 661.60 L510.70 661.60 L509.10 660.00 L509.10 641.00 Z" fill="none" stroke="#2a2a2a" stroke-width="1.25" stroke-linejoin="miter"/>
<line x1="509.50" y1="663.60" x2="522.50" y2="663.60" stroke="#444" stroke-width="1.3" stroke-linecap="butt"/>
<rect x="511.70" y="661.80" width="8.60" height="3.80" fill="#fff" stroke="#444" stroke-width="0.8"/>
<rect x="454.60" y="634.40" width="2.60" height="31.80" fill="#fff" stroke="#222" stroke-width="1.1"/>
<rect x="472.00" y="634.40" width="2.60" height="31.80" fill="#fff" stroke="#222" stroke-width="1.1"/>
<rect x="489.20" y="634.40" width="2.60" height="31.80" fill="#fff" stroke="#222" stroke-width="1.1"/>
<rect x="506.40" y="634.40" width="2.60" height="31.80" fill="#fff" stroke="#222" stroke-width="1.1"/>
<rect x="523.80" y="634.40" width="2.60" height="31.80" fill="#fff" stroke="#222" stroke-width="1.1"/>
<circle cx="464.80" cy="650.50" r="5.30" fill="#fff" stroke="#1a1a1a" stroke-width="1.0"/>
<line x1="458.30" y1="650.50" x2="471.30" y2="650.50" stroke="#222" stroke-width="1.25" stroke-linecap="butt"/>
<line x1="464.80" y1="644.00" x2="464.80" y2="657.00" stroke="#222" stroke-width="1.25" stroke-linecap="butt"/>
<circle cx="482.00" cy="650.50" r="5.30" fill="#fff" stroke="#1a1a1a" stroke-width="1.0"/>
<line x1="475.50" y1="650.50" x2="488.50" y2="650.50" stroke="#222" stroke-width="1.25" stroke-linecap="butt"/>
<line x1="482.00" y1="644.00" x2="482.00" y2="657.00" stroke="#222" stroke-width="1.25" stroke-linecap="butt"/>
<circle cx="499.10" cy="650.50" r="5.30" fill="#fff" stroke="#1a1a1a" stroke-width="1.0"/>
<line x1="492.60" y1="650.50" x2="505.60" y2="650.50" stroke="#222" stroke-width="1.25" stroke-linecap="butt"/>
<line x1="499.10" y1="644.00" x2="499.10" y2="657.00" stroke="#222" stroke-width="1.25" stroke-linecap="butt"/>
<circle cx="516.30" cy="650.50" r="5.30" fill="#fff" stroke="#1a1a1a" stroke-width="1.0"/>
<line x1="509.80" y1="650.50" x2="522.80" y2="650.50" stroke="#222" stroke-width="1.25" stroke-linecap="butt"/>
<line x1="516.30" y1="644.00" x2="516.30" y2="657.00" stroke="#222" stroke-width="1.25" stroke-linecap="butt"/>
<line x1="415.40" y1="592.00" x2="537.80" y2="592.00" stroke="#222" stroke-width="0.9" stroke-linecap="butt"/>
<line x1="437.40" y1="591.00" x2="437.40" y2="617.40" stroke="#222" stroke-width="0.9" stroke-linecap="butt"/>
<path d="M437.20 592.00 L425.60 590.00 L428.40 592.00 L425.60 594.00 Z" fill="none" stroke="#222" stroke-width="0.5" stroke-linejoin="miter"/>
<path d="M516.40 592.00 L528.00 590.00 L525.20 592.00 L528.00 594.00 Z" fill="none" stroke="#222" stroke-width="0.5" stroke-linejoin="miter"/>
<circle cx="464.80" cy="592.00" r="1.90" fill="#111" stroke="none" stroke-width="0"/>
<line x1="464.80" y1="592.00" x2="464.80" y2="644.00" stroke="#222" stroke-width="1.15" stroke-linecap="butt"/>
<circle cx="482.00" cy="592.00" r="1.90" fill="#111" stroke="none" stroke-width="0"/>
<line x1="482.00" y1="592.00" x2="482.00" y2="644.00" stroke="#222" stroke-width="1.15" stroke-linecap="butt"/>
<circle cx="499.10" cy="592.00" r="1.90" fill="#111" stroke="none" stroke-width="0"/>
<line x1="499.10" y1="592.00" x2="499.10" y2="644.00" stroke="#222" stroke-width="1.15" stroke-linecap="butt"/>
<line x1="516.20" y1="592.00" x2="516.20" y2="644.00" stroke="#333" stroke-width="0.9" stroke-linecap="butt"/>
<circle cx="516.20" cy="627.80" r="1.10" fill="#222" stroke="none" stroke-width="0"/>
<line x1="514.00" y1="627.80" x2="518.40" y2="627.80" stroke="#333" stroke-width="0.7" stroke-linecap="butt"/>
<path d="M644.60 589.70 L555.00 589.70 L527.60 633.00" fill="none" stroke="#222" stroke-width="0.9" stroke-linejoin="miter"/>
<line x1="532.60" y1="620.80" x2="560.40" y2="620.80" stroke="#222" stroke-width="0.9" stroke-linecap="butt"/>
<line x1="522.00" y1="650.50" x2="560.40" y2="650.50" stroke="#222" stroke-width="0.9" stroke-linecap="butt"/>
<line x1="559.20" y1="620.80" x2="559.20" y2="650.50" stroke="#222" stroke-width="0.9" stroke-linecap="butt"/>
<path d="M559.20 620.80 L558.20 625.80 L560.20 625.80 Z" fill="#222" stroke="#222" stroke-width="0.3" stroke-linejoin="miter"/>
<path d="M559.20 650.50 L558.20 645.50 L560.20 645.50 Z" fill="#222" stroke="#222" stroke-width="0.3" stroke-linejoin="miter"/>
<line x1="407.70" y1="620.80" x2="407.70" y2="845.60" stroke="#222" stroke-width="0.9" stroke-linecap="butt"/>
<path d="M407.70 620.80 L406.70 626.80 L408.70 626.80 Z" fill="#222" stroke="#222" stroke-width="0.3" stroke-linejoin="miter"/>
<path d="M407.70 830.20 L406.70 836.20 L408.70 836.20 Z" fill="#222" stroke="#222" stroke-width="0.3" stroke-linejoin="miter"/>
<circle cx="450.20" cy="675.10" r="3.25" fill="none" stroke="#333" stroke-width="0.95"/>
<circle cx="459.57" cy="675.10" r="3.25" fill="none" stroke="#333" stroke-width="0.95"/>
<circle cx="468.94" cy="675.10" r="3.25" fill="none" stroke="#333" stroke-width="0.95"/>
<circle cx="478.31" cy="675.10" r="3.25" fill="none" stroke="#333" stroke-width="0.95"/>
<circle cx="487.68" cy="675.10" r="3.25" fill="none" stroke="#333" stroke-width="0.95"/>
<circle cx="497.05" cy="675.10" r="3.25" fill="none" stroke="#333" stroke-width="0.95"/>
<circle cx="506.42" cy="675.10" r="3.25" fill="none" stroke="#333" stroke-width="0.95"/>
<circle cx="515.79" cy="675.10" r="3.25" fill="none" stroke="#333" stroke-width="0.95"/>
<circle cx="455.20" cy="700.90" r="3.25" fill="none" stroke="#333" stroke-width="0.95"/>
<circle cx="464.50" cy="700.90" r="3.25" fill="none" stroke="#333" stroke-width="0.95"/>
<circle cx="473.80" cy="700.90" r="3.25" fill="none" stroke="#333" stroke-width="0.95"/>
<circle cx="450.20" cy="708.90" r="3.25" fill="none" stroke="#333" stroke-width="0.95"/>
<circle cx="459.57" cy="708.90" r="3.25" fill="none" stroke="#333" stroke-width="0.95"/>
<circle cx="468.94" cy="708.90" r="3.25" fill="none" stroke="#333" stroke-width="0.95"/>
<circle cx="478.31" cy="708.90" r="3.25" fill="none" stroke="#333" stroke-width="0.95"/>
<circle cx="487.68" cy="708.90" r="3.25" fill="none" stroke="#333" stroke-width="0.95"/>
<circle cx="497.05" cy="708.90" r="3.25" fill="none" stroke="#333" stroke-width="0.95"/>
<circle cx="506.42" cy="708.90" r="3.25" fill="none" stroke="#333" stroke-width="0.95"/>
<circle cx="515.79" cy="708.90" r="3.25" fill="none" stroke="#333" stroke-width="0.95"/>
<circle cx="445.60" cy="717.00" r="3.25" fill="none" stroke="#333" stroke-width="0.95"/>
<circle cx="454.97" cy="717.00" r="3.25" fill="none" stroke="#333" stroke-width="0.95"/>
<circle cx="464.34" cy="717.00" r="3.25" fill="none" stroke="#333" stroke-width="0.95"/>
<circle cx="473.71" cy="717.00" r="3.25" fill="none" stroke="#333" stroke-width="0.95"/>
<circle cx="483.08" cy="717.00" r="3.25" fill="none" stroke="#333" stroke-width="0.95"/>
<circle cx="492.45" cy="717.00" r="3.25" fill="none" stroke="#333" stroke-width="0.95"/>
<circle cx="501.82" cy="717.00" r="3.25" fill="none" stroke="#333" stroke-width="0.95"/>
<circle cx="511.19" cy="717.00" r="3.25" fill="none" stroke="#333" stroke-width="0.95"/>
<circle cx="520.56" cy="717.00" r="3.25" fill="none" stroke="#333" stroke-width="0.95"/>
<circle cx="450.20" cy="725.10" r="3.25" fill="none" stroke="#333" stroke-width="0.95"/>
<circle cx="459.57" cy="725.10" r="3.25" fill="none" stroke="#333" stroke-width="0.95"/>
<circle cx="468.94" cy="725.10" r="3.25" fill="none" stroke="#333" stroke-width="0.95"/>
<circle cx="478.31" cy="725.10" r="3.25" fill="none" stroke="#333" stroke-width="0.95"/>
<circle cx="487.68" cy="725.10" r="3.25" fill="none" stroke="#333" stroke-width="0.95"/>
<circle cx="497.05" cy="725.10" r="3.25" fill="none" stroke="#333" stroke-width="0.95"/>
<circle cx="506.42" cy="725.10" r="3.25" fill="none" stroke="#333" stroke-width="0.95"/>
<circle cx="515.79" cy="725.10" r="3.25" fill="none" stroke="#333" stroke-width="0.95"/>
<circle cx="445.60" cy="733.20" r="3.25" fill="none" stroke="#333" stroke-width="0.95"/>
<circle cx="454.97" cy="733.20" r="3.25" fill="none" stroke="#333" stroke-width="0.95"/>
<circle cx="464.34" cy="733.20" r="3.25" fill="none" stroke="#333" stroke-width="0.95"/>
<circle cx="473.71" cy="733.20" r="3.25" fill="none" stroke="#333" stroke-width="0.95"/>
<circle cx="483.08" cy="733.20" r="3.25" fill="none" stroke="#333" stroke-width="0.95"/>
<circle cx="492.45" cy="733.20" r="3.25" fill="none" stroke="#333" stroke-width="0.95"/>
<circle cx="501.82" cy="733.20" r="3.25" fill="none" stroke="#333" stroke-width="0.95"/>
<circle cx="511.19" cy="733.20" r="3.25" fill="none" stroke="#333" stroke-width="0.95"/>
<circle cx="520.56" cy="733.20" r="3.25" fill="none" stroke="#333" stroke-width="0.95"/>
<circle cx="450.20" cy="741.30" r="3.25" fill="none" stroke="#333" stroke-width="0.95"/>
<circle cx="459.57" cy="741.30" r="3.25" fill="none" stroke="#333" stroke-width="0.95"/>
<circle cx="468.94" cy="741.30" r="3.25" fill="none" stroke="#333" stroke-width="0.95"/>
<circle cx="478.31" cy="741.30" r="3.25" fill="none" stroke="#333" stroke-width="0.95"/>
<circle cx="487.68" cy="741.30" r="3.25" fill="none" stroke="#333" stroke-width="0.95"/>
<circle cx="497.05" cy="741.30" r="3.25" fill="none" stroke="#333" stroke-width="0.95"/>
<circle cx="506.42" cy="741.30" r="3.25" fill="none" stroke="#333" stroke-width="0.95"/>
<circle cx="515.79" cy="741.30" r="3.25" fill="none" stroke="#333" stroke-width="0.95"/>
<circle cx="445.60" cy="749.40" r="3.25" fill="none" stroke="#333" stroke-width="0.95"/>
<circle cx="454.97" cy="749.40" r="3.25" fill="none" stroke="#333" stroke-width="0.95"/>
<circle cx="464.34" cy="749.40" r="3.25" fill="none" stroke="#333" stroke-width="0.95"/>
<circle cx="473.71" cy="749.40" r="3.25" fill="none" stroke="#333" stroke-width="0.95"/>
<circle cx="483.08" cy="749.40" r="3.25" fill="none" stroke="#333" stroke-width="0.95"/>
<circle cx="492.45" cy="749.40" r="3.25" fill="none" stroke="#333" stroke-width="0.95"/>
<circle cx="501.82" cy="749.40" r="3.25" fill="none" stroke="#333" stroke-width="0.95"/>
<circle cx="511.19" cy="749.40" r="3.25" fill="none" stroke="#333" stroke-width="0.95"/>
<circle cx="520.56" cy="749.40" r="3.25" fill="none" stroke="#333" stroke-width="0.95"/>
<circle cx="450.20" cy="757.50" r="3.25" fill="none" stroke="#333" stroke-width="0.95"/>
<circle cx="459.57" cy="757.50" r="3.25" fill="none" stroke="#333" stroke-width="0.95"/>
<circle cx="468.94" cy="757.50" r="3.25" fill="none" stroke="#333" stroke-width="0.95"/>
<circle cx="478.31" cy="757.50" r="3.25" fill="none" stroke="#333" stroke-width="0.95"/>
<circle cx="487.68" cy="757.50" r="3.25" fill="none" stroke="#333" stroke-width="0.95"/>
<circle cx="497.05" cy="757.50" r="3.25" fill="none" stroke="#333" stroke-width="0.95"/>
<circle cx="506.42" cy="757.50" r="3.25" fill="none" stroke="#333" stroke-width="0.95"/>
<circle cx="515.79" cy="757.50" r="3.25" fill="none" stroke="#333" stroke-width="0.95"/>
<circle cx="492.45" cy="765.60" r="3.25" fill="none" stroke="#333" stroke-width="0.95"/>
<circle cx="501.82" cy="765.60" r="3.25" fill="none" stroke="#333" stroke-width="0.95"/>
<circle cx="511.19" cy="765.60" r="3.25" fill="none" stroke="#333" stroke-width="0.95"/>
<circle cx="520.56" cy="765.60" r="3.25" fill="none" stroke="#333" stroke-width="0.95"/>
<circle cx="497.05" cy="773.70" r="3.25" fill="none" stroke="#333" stroke-width="0.95"/>
<circle cx="506.42" cy="773.70" r="3.25" fill="none" stroke="#333" stroke-width="0.95"/>
<circle cx="515.79" cy="773.70" r="3.25" fill="none" stroke="#333" stroke-width="0.95"/>
<circle cx="492.45" cy="781.80" r="3.25" fill="none" stroke="#333" stroke-width="0.95"/>
<circle cx="501.82" cy="781.80" r="3.25" fill="none" stroke="#333" stroke-width="0.95"/>
<circle cx="511.19" cy="781.80" r="3.25" fill="none" stroke="#333" stroke-width="0.95"/>
<circle cx="520.56" cy="781.80" r="3.25" fill="none" stroke="#333" stroke-width="0.95"/>
<circle cx="497.05" cy="789.90" r="3.25" fill="none" stroke="#333" stroke-width="0.95"/>
<circle cx="506.42" cy="789.90" r="3.25" fill="none" stroke="#333" stroke-width="0.95"/>
<circle cx="515.79" cy="789.90" r="3.25" fill="none" stroke="#333" stroke-width="0.95"/>
<circle cx="492.45" cy="798.00" r="3.25" fill="none" stroke="#333" stroke-width="0.95"/>
<circle cx="501.82" cy="798.00" r="3.25" fill="none" stroke="#333" stroke-width="0.95"/>
<circle cx="511.19" cy="798.00" r="3.25" fill="none" stroke="#333" stroke-width="0.95"/>
<circle cx="520.56" cy="798.00" r="3.25" fill="none" stroke="#333" stroke-width="0.95"/>
<circle cx="497.05" cy="806.10" r="3.25" fill="none" stroke="#333" stroke-width="0.95"/>
<circle cx="506.42" cy="806.10" r="3.25" fill="none" stroke="#333" stroke-width="0.95"/>
<circle cx="515.79" cy="806.10" r="3.25" fill="none" stroke="#333" stroke-width="0.95"/>
<circle cx="492.45" cy="814.20" r="3.25" fill="none" stroke="#333" stroke-width="0.95"/>
<circle cx="501.82" cy="814.20" r="3.25" fill="none" stroke="#333" stroke-width="0.95"/>
<circle cx="511.19" cy="814.20" r="3.25" fill="none" stroke="#333" stroke-width="0.95"/>
<circle cx="520.56" cy="814.20" r="3.25" fill="none" stroke="#333" stroke-width="0.95"/>
<circle cx="497.05" cy="822.30" r="3.25" fill="none" stroke="#333" stroke-width="0.95"/>
<circle cx="506.42" cy="822.30" r="3.25" fill="none" stroke="#333" stroke-width="0.95"/>
<circle cx="515.79" cy="822.30" r="3.25" fill="none" stroke="#333" stroke-width="0.95"/>
<circle cx="492.45" cy="830.40" r="3.25" fill="none" stroke="#333" stroke-width="0.95"/>
<circle cx="501.82" cy="830.40" r="3.25" fill="none" stroke="#333" stroke-width="0.95"/>
<circle cx="511.19" cy="830.40" r="3.25" fill="none" stroke="#333" stroke-width="0.95"/>
<circle cx="520.56" cy="830.40" r="3.25" fill="none" stroke="#333" stroke-width="0.95"/>
<circle cx="497.05" cy="838.50" r="3.25" fill="none" stroke="#333" stroke-width="0.95"/>
<circle cx="506.42" cy="838.50" r="3.25" fill="none" stroke="#333" stroke-width="0.95"/>
<circle cx="515.79" cy="838.50" r="3.25" fill="none" stroke="#333" stroke-width="0.95"/>
<circle cx="511.19" cy="846.60" r="3.25" fill="none" stroke="#333" stroke-width="0.95"/>
<circle cx="520.56" cy="846.60" r="3.25" fill="none" stroke="#333" stroke-width="0.95"/>
<circle cx="445.60" cy="847.60" r="3.25" fill="none" stroke="#333" stroke-width="0.95"/>
<circle cx="455.00" cy="847.60" r="3.25" fill="none" stroke="#333" stroke-width="0.95"/>
<circle cx="464.40" cy="847.60" r="3.25" fill="none" stroke="#333" stroke-width="0.95"/>
<circle cx="473.80" cy="847.60" r="3.25" fill="none" stroke="#333" stroke-width="0.95"/>
<path d="M458.6 694.0 L458.6 682.4 Q458.6 681.2 460.0 681.2 L527.0 681.2 L527.0 700.2 L485.0 700.2 L483.6 694.0 Z" fill="#fff" stroke="#444" stroke-width="1.0" />
<line x1="459.40" y1="682.20" x2="527.00" y2="682.20" stroke="#555" stroke-width="2.2" stroke-linecap="butt"/>
<rect x="459.60" y="683.80" width="11.00" height="6.80" fill="#fff" stroke="#222" stroke-width="1.1"/>
<rect x="462.60" y="690.60" width="5.00" height="2.00" fill="#999" stroke="#333" stroke-width="0.9"/>
<rect x="462.20" y="686.20" width="1.80" height="1.80" fill="#222" stroke="none" stroke-width="0"/>
<rect x="466.20" y="686.20" width="1.80" height="1.80" fill="#222" stroke="none" stroke-width="0"/>
<rect x="472.20" y="683.80" width="11.00" height="6.80" fill="#fff" stroke="#222" stroke-width="1.1"/>
<rect x="475.20" y="690.60" width="5.00" height="2.00" fill="#999" stroke="#333" stroke-width="0.9"/>
<rect x="474.80" y="686.20" width="1.80" height="1.80" fill="#222" stroke="none" stroke-width="0"/>
<rect x="478.80" y="686.20" width="1.80" height="1.80" fill="#222" stroke="none" stroke-width="0"/>
<rect x="485.60" y="684.40" width="19.00" height="11.20" fill="#fff" stroke="#222" stroke-width="1.6"/>
<rect x="491.80" y="695.60" width="6.60" height="2.60" fill="#888" stroke="#222" stroke-width="1.0"/>
<rect x="488.20" y="686.60" width="1.60" height="1.60" fill="#222" stroke="none" stroke-width="0"/>
<rect x="488.20" y="690.80" width="1.60" height="1.60" fill="#222" stroke="none" stroke-width="0"/>
<rect x="492.30" y="686.60" width="1.60" height="1.60" fill="#222" stroke="none" stroke-width="0"/>
<rect x="492.30" y="690.80" width="1.60" height="1.60" fill="#222" stroke="none" stroke-width="0"/>
<rect x="496.40" y="686.60" width="1.60" height="1.60" fill="#222" stroke="none" stroke-width="0"/>
<rect x="496.40" y="690.80" width="1.60" height="1.60" fill="#222" stroke="none" stroke-width="0"/>
<rect x="500.50" y="686.60" width="1.60" height="1.60" fill="#222" stroke="none" stroke-width="0"/>
<rect x="500.50" y="690.80" width="1.60" height="1.60" fill="#222" stroke="none" stroke-width="0"/>
<rect x="507.60" y="684.40" width="19.00" height="11.20" fill="#fff" stroke="#222" stroke-width="1.6"/>
<rect x="513.80" y="695.60" width="6.60" height="2.60" fill="#888" stroke="#222" stroke-width="1.0"/>
<rect x="510.20" y="686.60" width="1.60" height="1.60" fill="#222" stroke="none" stroke-width="0"/>
<rect x="510.20" y="690.80" width="1.60" height="1.60" fill="#222" stroke="none" stroke-width="0"/>
<rect x="514.30" y="686.60" width="1.60" height="1.60" fill="#222" stroke="none" stroke-width="0"/>
<rect x="514.30" y="690.80" width="1.60" height="1.60" fill="#222" stroke="none" stroke-width="0"/>
<rect x="518.40" y="686.60" width="1.60" height="1.60" fill="#222" stroke="none" stroke-width="0"/>
<rect x="518.40" y="690.80" width="1.60" height="1.60" fill="#222" stroke="none" stroke-width="0"/>
<rect x="522.50" y="686.60" width="1.60" height="1.60" fill="#222" stroke="none" stroke-width="0"/>
<rect x="522.50" y="690.80" width="1.60" height="1.60" fill="#222" stroke="none" stroke-width="0"/>
<path d="M444.00 681.80 L439.60 681.80 L439.60 699.40 L444.00 699.40" fill="none" stroke="#333" stroke-width="1.0" stroke-linejoin="miter"/>
<rect x="441.20" y="681.80" width="2.80" height="1.60" fill="none" stroke="#444" stroke-width="0.6"/>
<rect x="441.20" y="697.80" width="2.80" height="1.60" fill="none" stroke="#444" stroke-width="0.6"/>
<path d="M517.80 651.40 L541.40 667.10 Q544.80 670.50 548.40 670.50 L565.60 670.50" fill="none" stroke="#222" stroke-width="0.9" />
<path d="M500.60 651.40 L541.90 681.10 Q545.30 684.50 548.90 684.50 L569.60 684.50" fill="none" stroke="#222" stroke-width="0.9" />
<path d="M483.50 651.40 L542.30 697.20 Q545.70 700.60 549.30 700.60 L565.80 700.60" fill="none" stroke="#222" stroke-width="0.9" />
<path d="M466.30 651.40 L542.30 712.20 Q545.70 715.60 549.30 715.60 L571.80 715.60" fill="none" stroke="#222" stroke-width="0.9" />
<rect x="449.00" y="767.60" width="34.60" height="73.80" fill="#fff" stroke="#1a1a1a" stroke-width="1.6" rx="1.8"/>
<line x1="451.60" y1="769.40" x2="451.60" y2="839.60" stroke="#555" stroke-width="0.9" stroke-linecap="butt"/>
<line x1="481.60" y1="770.00" x2="481.60" y2="839.00" stroke="#666" stroke-width="1.0" stroke-linecap="butt"/>
<path d="M457.20 771.20 L477.00 771.20 L478.60 772.80 L478.60 783.60 L477.00 785.20 L457.20 785.20 L455.60 783.60 L455.60 772.80 Z" fill="none" stroke="#2a2a2a" stroke-width="1.25" stroke-linejoin="miter"/>
<line x1="453.40" y1="772.20" x2="453.40" y2="784.20" stroke="#333" stroke-width="1.5" stroke-linecap="butt"/>
<line x1="480.00" y1="772.20" x2="480.00" y2="784.20" stroke="#555" stroke-width="1.3" stroke-linecap="butt"/>
<path d="M457.20 788.50 L477.00 788.50 L478.60 790.10 L478.60 800.90 L477.00 802.50 L457.20 802.50 L455.60 800.90 L455.60 790.10 Z" fill="none" stroke="#2a2a2a" stroke-width="1.25" stroke-linejoin="miter"/>
<line x1="453.40" y1="789.50" x2="453.40" y2="801.50" stroke="#333" stroke-width="1.5" stroke-linecap="butt"/>
<line x1="480.00" y1="789.50" x2="480.00" y2="801.50" stroke="#555" stroke-width="1.3" stroke-linecap="butt"/>
<path d="M457.20 805.70 L477.00 805.70 L478.60 807.30 L478.60 818.10 L477.00 819.70 L457.20 819.70 L455.60 818.10 L455.60 807.30 Z" fill="none" stroke="#2a2a2a" stroke-width="1.25" stroke-linejoin="miter"/>
<line x1="453.40" y1="806.70" x2="453.40" y2="818.70" stroke="#333" stroke-width="1.5" stroke-linecap="butt"/>
<line x1="480.00" y1="806.70" x2="480.00" y2="818.70" stroke="#555" stroke-width="1.3" stroke-linecap="butt"/>
<path d="M457.20 823.20 L477.00 823.20 L478.60 824.80 L478.60 835.60 L477.00 837.20 L457.20 837.20 L455.60 835.60 L455.60 824.80 Z" fill="none" stroke="#2a2a2a" stroke-width="1.25" stroke-linejoin="miter"/>
<line x1="453.40" y1="824.20" x2="453.40" y2="836.20" stroke="#333" stroke-width="1.5" stroke-linecap="butt"/>
<line x1="480.00" y1="824.20" x2="480.00" y2="836.20" stroke="#555" stroke-width="1.3" stroke-linecap="butt"/>
<rect x="450.40" y="769.40" width="31.80" height="2.50" fill="#fff" stroke="#222" stroke-width="1.1"/>
<rect x="450.40" y="786.00" width="31.80" height="2.50" fill="#fff" stroke="#222" stroke-width="1.1"/>
<rect x="450.40" y="803.20" width="31.80" height="2.50" fill="#fff" stroke="#222" stroke-width="1.1"/>
<rect x="450.40" y="820.40" width="31.80" height="2.50" fill="#fff" stroke="#222" stroke-width="1.1"/>
<rect x="450.40" y="837.40" width="31.80" height="2.50" fill="#fff" stroke="#222" stroke-width="1.1"/>
<circle cx="466.40" cy="778.20" r="5.20" fill="#fff" stroke="#1a1a1a" stroke-width="1.0"/>
<line x1="460.00" y1="778.20" x2="472.80" y2="778.20" stroke="#222" stroke-width="1.25" stroke-linecap="butt"/>
<line x1="466.40" y1="771.80" x2="466.40" y2="784.60" stroke="#222" stroke-width="1.25" stroke-linecap="butt"/>
<circle cx="466.40" cy="795.50" r="5.20" fill="#fff" stroke="#1a1a1a" stroke-width="1.0"/>
<line x1="460.00" y1="795.50" x2="472.80" y2="795.50" stroke="#222" stroke-width="1.25" stroke-linecap="butt"/>
<line x1="466.40" y1="789.10" x2="466.40" y2="801.90" stroke="#222" stroke-width="1.25" stroke-linecap="butt"/>
<circle cx="466.40" cy="812.70" r="5.20" fill="#fff" stroke="#1a1a1a" stroke-width="1.0"/>
<line x1="460.00" y1="812.70" x2="472.80" y2="812.70" stroke="#222" stroke-width="1.25" stroke-linecap="butt"/>
<line x1="466.40" y1="806.30" x2="466.40" y2="819.10" stroke="#222" stroke-width="1.25" stroke-linecap="butt"/>
<circle cx="466.40" cy="830.20" r="5.20" fill="#fff" stroke="#1a1a1a" stroke-width="1.0"/>
<line x1="460.00" y1="830.20" x2="472.80" y2="830.20" stroke="#222" stroke-width="1.25" stroke-linecap="butt"/>
<line x1="466.40" y1="823.80" x2="466.40" y2="836.60" stroke="#222" stroke-width="1.25" stroke-linecap="butt"/>
<line x1="466.40" y1="841.40" x2="466.40" y2="845.00" stroke="#333" stroke-width="1.0" stroke-linecap="butt"/>
<circle cx="407.70" cy="778.20" r="1.90" fill="#111" stroke="none" stroke-width="0"/>
<line x1="407.70" y1="778.20" x2="456.00" y2="778.20" stroke="#222" stroke-width="1.15" stroke-linecap="butt"/>
<circle cx="407.70" cy="795.50" r="1.90" fill="#111" stroke="none" stroke-width="0"/>
<line x1="407.70" y1="795.50" x2="456.00" y2="795.50" stroke="#222" stroke-width="1.15" stroke-linecap="butt"/>
<circle cx="407.70" cy="812.70" r="1.90" fill="#111" stroke="none" stroke-width="0"/>
<line x1="407.70" y1="812.70" x2="456.00" y2="812.70" stroke="#222" stroke-width="1.15" stroke-linecap="butt"/>
<line x1="407.70" y1="830.20" x2="456.00" y2="830.20" stroke="#333" stroke-width="0.8" stroke-linecap="butt"/>
<path d="M444.20 775.60 L445.60 778.20 L444.20 778.00" fill="none" stroke="#222" stroke-width="0.8" stroke-linejoin="miter"/>
<path d="M444.20 792.90 L445.60 795.50 L444.20 795.30" fill="none" stroke="#222" stroke-width="0.8" stroke-linejoin="miter"/>
<path d="M444.20 810.10 L445.60 812.70 L444.20 812.50" fill="none" stroke="#222" stroke-width="0.8" stroke-linejoin="miter"/>
<path d="M444.20 827.60 L445.60 830.20 L444.20 830.00" fill="none" stroke="#222" stroke-width="0.8" stroke-linejoin="miter"/>
<path d="M468.50 779.80 Q473.00 779.60 478.00 777.90 L548.00 755.10 Q550.40 754.00 553.00 754.00 L575.40 754.00" fill="none" stroke="#222" stroke-width="0.9" />
<path d="M468.50 797.10 Q473.00 796.90 478.00 795.20 L548.00 775.50 Q550.40 774.40 553.00 774.40 L575.40 774.40" fill="none" stroke="#222" stroke-width="0.9" />
<path d="M468.50 814.30 Q473.00 814.10 478.00 812.40 L548.00 795.50 Q550.40 794.40 553.00 794.40 L575.40 794.40" fill="none" stroke="#222" stroke-width="0.9" />
<path d="M468.50 831.80 Q473.00 831.60 478.00 829.90 L548.00 812.80 Q550.40 811.70 553.00 811.70 L575.40 811.70" fill="none" stroke="#222" stroke-width="0.9" />
<path d="M483.60 845.40 L483.60 853.40 L503.20 853.40 L503.20 845.40" fill="none" stroke="#444" stroke-width="1.0" stroke-linejoin="miter"/>
<path d="M485.60 845.40 L485.60 851.40 L501.20 851.40 L501.20 845.40" fill="none" stroke="#777" stroke-width="0.9" stroke-linejoin="miter"/>
<line x1="437.40" y1="857.00" x2="437.40" y2="882.60" stroke="#222" stroke-width="0.9" stroke-linecap="butt"/>
<line x1="466.40" y1="841.40" x2="466.40" y2="882.60" stroke="#222" stroke-width="0.9" stroke-linecap="butt"/>
<line x1="395.60" y1="880.80" x2="467.80" y2="880.80" stroke="#222" stroke-width="0.9" stroke-linecap="butt"/>
<path d="M437.60 880.80 L445.60 879.40 L443.60 880.80 L445.60 882.20 Z" fill="none" stroke="#222" stroke-width="0.5" stroke-linejoin="miter"/>
<path d="M466.20 880.80 L458.20 879.40 L460.20 880.80 L458.20 882.20 Z" fill="none" stroke="#222" stroke-width="0.5" stroke-linejoin="miter"/>
<path d="M482.40 840.20 L522.40 886.70 L626.40 886.70" fill="none" stroke="#222" stroke-width="0.9" stroke-linejoin="miter"/>
<path d="M482.00 839.60 L484.80 841.00 L483.20 842.60 Z" fill="#222" stroke="#222" stroke-width="0.6" stroke-linejoin="miter"/>
<path d="M357.60 749.50 L369.00 741.40 L369.00 745.40 L380.00 745.40 L380.00 753.70 L369.00 753.70 L369.00 757.70 Z" fill="none" stroke="#444" stroke-width="0.95" stroke-linejoin="miter"/>
<line x1="381.60" y1="921.30" x2="632.60" y2="921.30" stroke="#333" stroke-width="1.1" stroke-linecap="butt"/>
<line x1="430.90" y1="921.30" x2="430.90" y2="948.30" stroke="#999" stroke-width="1.6" stroke-linecap="butt"/>
<line x1="379.00" y1="930.40" x2="383.00" y2="913.40" stroke="#222" stroke-width="0.9" stroke-linecap="butt"/>
<line x1="633.00" y1="930.40" x2="637.20" y2="913.20" stroke="#222" stroke-width="0.9" stroke-linecap="butt"/>
<path d="M388.20 921.30 L388.20 948.60 L398.40 948.60 L398.40 956.70 L420.10 956.70 L420.10 948.60 L429.70 948.60 L429.70 921.30" fill="none" stroke="#222" stroke-width="1.0" stroke-linejoin="miter"/>
<path d="M391.30 923.50 L391.30 946.00 L401.40 946.00 L401.40 953.40 L417.30 953.40 L417.30 946.00 L427.20 946.00 L427.20 923.50 L391.30 923.50" fill="none" stroke="#222" stroke-width="1.1" stroke-linejoin="miter"/>
<rect x="400.10" y="932.80" width="4.40" height="4.40" fill="none" stroke="#1a1a1a" stroke-width="1.1" rx="0.5"/>
<rect x="414.00" y="932.80" width="4.40" height="4.40" fill="none" stroke="#1a1a1a" stroke-width="1.1" rx="0.5"/>
<rect x="395.80" y="921.30" width="3.40" height="2.00" fill="none" stroke="#555" stroke-width="0.8"/>
<rect x="419.90" y="921.30" width="3.40" height="2.00" fill="none" stroke="#555" stroke-width="0.8"/>
<path d="M432.20 921.30 L432.20 948.60 L442.40 948.60 L442.40 956.70 L464.20 956.70 L464.20 948.60 L473.80 948.60 L473.80 921.30" fill="none" stroke="#222" stroke-width="1.0" stroke-linejoin="miter"/>
<path d="M435.30 923.50 L435.30 946.00 L445.40 946.00 L445.40 953.40 L461.40 953.40 L461.40 946.00 L471.30 946.00 L471.30 923.50 L435.30 923.50" fill="none" stroke="#222" stroke-width="1.1" stroke-linejoin="miter"/>
<rect x="444.10" y="932.80" width="4.40" height="4.40" fill="none" stroke="#1a1a1a" stroke-width="1.1" rx="0.5"/>
<rect x="458.00" y="932.80" width="4.40" height="4.40" fill="none" stroke="#1a1a1a" stroke-width="1.1" rx="0.5"/>
<rect x="439.80" y="921.30" width="3.40" height="2.00" fill="none" stroke="#555" stroke-width="0.8"/>
<rect x="464.00" y="921.30" width="3.40" height="2.00" fill="none" stroke="#555" stroke-width="0.8"/>
<path d="M477.30 921.30 L477.30 967.60 L498.90 967.60 L498.90 974.80 L525.50 974.80 L525.50 967.60 L547.10 967.60 L547.10 921.30" fill="none" stroke="#222" stroke-width="1.0" stroke-linejoin="miter"/>
<path d="M481.30 928.50 L481.30 963.60 L502.50 963.60 L502.50 970.20 L521.90 970.20 L521.90 963.60 L543.50 963.60 L543.50 928.50 L481.30 928.50 Z" fill="none" stroke="#222" stroke-width="1.7" stroke-linejoin="miter"/>
<path d="M483.60 921.30 L483.60 924.50 L541.20 924.50 L541.20 921.30" fill="none" stroke="#222" stroke-width="0.9" stroke-linejoin="miter"/>
<line x1="503.10" y1="968.20" x2="521.30" y2="968.20" stroke="#333" stroke-width="1.0" stroke-linecap="butt"/>
<rect x="489.50" y="937.10" width="4.40" height="4.40" fill="none" stroke="#1a1a1a" stroke-width="1.1" rx="0.5"/>
<rect x="489.50" y="951.00" width="4.40" height="4.40" fill="none" stroke="#1a1a1a" stroke-width="1.1" rx="0.5"/>
<rect x="503.20" y="937.10" width="4.40" height="4.40" fill="none" stroke="#1a1a1a" stroke-width="1.1" rx="0.5"/>
<rect x="503.20" y="951.00" width="4.40" height="4.40" fill="none" stroke="#1a1a1a" stroke-width="1.1" rx="0.5"/>
<rect x="516.90" y="937.10" width="4.40" height="4.40" fill="none" stroke="#1a1a1a" stroke-width="1.1" rx="0.5"/>
<rect x="516.90" y="951.00" width="4.40" height="4.40" fill="none" stroke="#1a1a1a" stroke-width="1.1" rx="0.5"/>
<rect x="530.60" y="937.10" width="4.40" height="4.40" fill="none" stroke="#1a1a1a" stroke-width="1.1" rx="0.5"/>
<rect x="530.60" y="951.00" width="4.40" height="4.40" fill="none" stroke="#1a1a1a" stroke-width="1.1" rx="0.5"/>
<path d="M553.20 921.30 L553.20 967.60 L574.80 967.60 L574.80 974.80 L601.20 974.80 L601.20 967.60 L622.80 967.60 L622.80 921.30" fill="none" stroke="#222" stroke-width="1.0" stroke-linejoin="miter"/>
<path d="M557.20 928.50 L557.20 963.60 L578.40 963.60 L578.40 970.20 L597.60 970.20 L597.60 963.60 L619.20 963.60 L619.20 928.50 L557.20 928.50 Z" fill="none" stroke="#222" stroke-width="1.7" stroke-linejoin="miter"/>
<path d="M559.50 921.30 L559.50 924.50 L616.90 924.50 L616.90 921.30" fill="none" stroke="#222" stroke-width="0.9" stroke-linejoin="miter"/>
<line x1="579.00" y1="968.20" x2="597.00" y2="968.20" stroke="#333" stroke-width="1.0" stroke-linecap="butt"/>
<rect x="565.40" y="937.10" width="4.40" height="4.40" fill="none" stroke="#1a1a1a" stroke-width="1.1" rx="0.5"/>
<rect x="565.40" y="951.00" width="4.40" height="4.40" fill="none" stroke="#1a1a1a" stroke-width="1.1" rx="0.5"/>
<rect x="579.10" y="937.10" width="4.40" height="4.40" fill="none" stroke="#1a1a1a" stroke-width="1.1" rx="0.5"/>
<rect x="579.10" y="951.00" width="4.40" height="4.40" fill="none" stroke="#1a1a1a" stroke-width="1.1" rx="0.5"/>
<rect x="592.80" y="937.10" width="4.40" height="4.40" fill="none" stroke="#1a1a1a" stroke-width="1.1" rx="0.5"/>
<rect x="592.80" y="951.00" width="4.40" height="4.40" fill="none" stroke="#1a1a1a" stroke-width="1.1" rx="0.5"/>
<rect x="606.50" y="937.10" width="4.40" height="4.40" fill="none" stroke="#1a1a1a" stroke-width="1.1" rx="0.5"/>
<rect x="606.50" y="951.00" width="4.40" height="4.40" fill="none" stroke="#1a1a1a" stroke-width="1.1" rx="0.5"/>
<text transform="translate(89.60 50.74)" font-family='"Liberation Sans", "Noto Sans CJK SC", sans-serif' font-size="28.8" fill="#1b98d6" letter-spacing="-0.460">原理功能框图</text>
<text transform="translate(89.70 76.10)" font-family='"Liberation Sans", "Noto Sans CJK SC", sans-serif' font-size="18" fill="#2ea3dc" letter-spacing="-0.411">Functional</text>
<text transform="translate(179.55 76.10)" font-family='"Liberation Sans", "Noto Sans CJK SC", sans-serif' font-size="18" fill="#2ea3dc" letter-spacing="-0.488">block</text>
<text transform="translate(230.85 76.10)" font-family='"Liberation Sans", "Noto Sans CJK SC", sans-serif' font-size="18" fill="#2ea3dc" letter-spacing="-0.275">diagram</text>
<text transform="translate(89.35 509.44)" font-family='"Liberation Sans", "Noto Sans CJK SC", sans-serif' font-size="28.8" fill="#1b98d6" letter-spacing="-0.381">外形尺寸及面板说明</text>
<text transform="translate(91.30 533.00)" font-family='"Liberation Sans", "Noto Sans CJK SC", sans-serif' font-size="18" fill="#2ea3dc" letter-spacing="-0.332">Boundary dimensions and panel descriptions</text>
<text transform="translate(89.85 1048.54)" font-family='"Liberation Sans", "Noto Sans CJK SC", sans-serif' font-size="28.8" fill="#1b98d6" letter-spacing="-0.483">保用期限</text>
<text transform="translate(89.80 1070.60)" font-family='"Liberation Sans", "Noto Sans CJK SC", sans-serif' font-size="18" fill="#2ea3dc" letter-spacing="-0.289">Warranty period</text>
<text transform="translate(89.60 1103.67)" font-family='"Liberation Sans", "Noto Sans CJK SC", sans-serif' font-size="16.9" fill="#4a4a4a" font-weight="300" letter-spacing="-0.008">为您提供3年的产品质保期。</text>
<text transform="translate(91.55 1128.40)" font-family='"Liberation Sans", "Noto Sans CJK SC", sans-serif' font-size="15.4" fill="#6e6e6e" letter-spacing="-0.166">Provide you with 3-year product warranty.</text>
<text transform="translate(719.05 585.20)" font-family='"Liberation Sans", "Noto Sans CJK SC", sans-serif' font-size="14.9" fill="#505050" font-weight="300" letter-spacing="-0.330">前面板说明：</text>
<text transform="translate(718.80 601.30)" font-family='"Liberation Sans", "Noto Sans CJK SC", sans-serif' font-size="13.9" fill="#6e6e6e" letter-spacing="-0.515">Description of front panel:</text>
<text transform="translate(718.55 627.70)" font-family='"Liberation Sans", "Noto Sans CJK SC", sans-serif' font-size="15.9" fill="#6e6e6e" font-weight="300" letter-spacing="-0.387">L1，L2，L3:</text>
<text transform="translate(808.40 628.20)" font-family='"Liberation Sans", "Noto Sans CJK SC", sans-serif' font-size="14.9" fill="#505050" font-weight="300" letter-spacing="-0.067">三相电源输入端</text>
<text transform="translate(718.80 645.30)" font-family='"Liberation Sans", "Noto Sans CJK SC", sans-serif' font-size="13.9" fill="#6e6e6e" letter-spacing="-0.469">L1, L2,L3: three-phase power input terminals</text>
<text transform="translate(718.55 672.00)" font-family='"Liberation Sans", "Noto Sans CJK SC", sans-serif' font-size="15.9" fill="#6e6e6e" font-weight="300" letter-spacing="-0.190">L+，L−:</text>
<text transform="translate(777.85 672.50)" font-family='"Liberation Sans", "Noto Sans CJK SC", sans-serif' font-size="14.9" fill="#505050" font-weight="300" letter-spacing="-0.308">直流电源输入端</text>
<text transform="translate(718.80 689.60)" font-family='"Liberation Sans", "Noto Sans CJK SC", sans-serif' font-size="13.9" fill="#6e6e6e" letter-spacing="-0.494">L+, L−: DC power input terminals</text>
<text transform="translate(718.55 715.40)" font-family='"Liberation Sans", "Noto Sans CJK SC", sans-serif' font-size="15.9" fill="#6e6e6e" font-weight="300" letter-spacing="-0.075">FG:</text>
<text transform="translate(744.70 715.90)" font-family='"Liberation Sans", "Noto Sans CJK SC", sans-serif' font-size="14.9" fill="#505050" font-weight="300" letter-spacing="-0.167">保护接地</text>
<text transform="translate(718.80 731.50)" font-family='"Liberation Sans", "Noto Sans CJK SC", sans-serif' font-size="13.9" fill="#6e6e6e" letter-spacing="-0.545">FG: protective earthing</text>
<text transform="translate(719.80 759.30)" font-family='"Liberation Sans", "Noto Sans CJK SC", sans-serif' font-size="15.9" fill="#6e6e6e" font-weight="300" letter-spacing="0.125">V+：</text>
<text transform="translate(753.45 759.80)" font-family='"Liberation Sans", "Noto Sans CJK SC", sans-serif' font-size="14.9" fill="#505050" font-weight="300" letter-spacing="-0.175">正输出端子</text>
<text transform="translate(721.40 776.10)" font-family='"Liberation Sans", "Noto Sans CJK SC", sans-serif' font-size="13.9" fill="#6e6e6e" letter-spacing="-0.581">V+: positive output terminal</text>
<text transform="translate(719.80 802.80)" font-family='"Liberation Sans", "Noto Sans CJK SC", sans-serif' font-size="15.9" fill="#6e6e6e" font-weight="300" letter-spacing="0.125">V−：</text>
<text transform="translate(753.20 803.30)" font-family='"Liberation Sans", "Noto Sans CJK SC", sans-serif' font-size="14.9" fill="#505050" font-weight="300" letter-spacing="-0.113">负输出端子</text>
<text transform="translate(721.40 816.00)" font-family='"Liberation Sans", "Noto Sans CJK SC", sans-serif' font-size="13.9" fill="#6e6e6e" letter-spacing="-0.563">V−: negative output terminal</text>
<text transform="translate(719.80 845.90)" font-family='"Liberation Sans", "Noto Sans CJK SC", sans-serif' font-size="15.9" fill="#6e6e6e" font-weight="300" letter-spacing="0.246">ALARM+，ALARM−：</text>
<text transform="translate(875.45 846.40)" font-family='"Liberation Sans", "Noto Sans CJK SC", sans-serif' font-size="14.9" fill="#505050" font-weight="300" letter-spacing="-0.180">故障报警信号</text>
<text transform="translate(719.80 859.50)" font-family='"Liberation Sans", "Noto Sans CJK SC", sans-serif' font-size="13.9" fill="#6e6e6e" letter-spacing="-0.476">ALARM+, ALARM−: fault alarm signal</text>
<text transform="translate(718.30 889.80)" font-family='"Liberation Sans", "Noto Sans CJK SC", sans-serif' font-size="15.9" fill="#6e6e6e" font-weight="300" letter-spacing="0.256">IBUS，GND：</text>
<text transform="translate(820.05 890.30)" font-family='"Liberation Sans", "Noto Sans CJK SC", sans-serif' font-size="14.9" fill="#505050" font-weight="300" letter-spacing="-0.360">并联均流母线</text>
<text transform="translate(718.55 905.30)" font-family='"Liberation Sans", "Noto Sans CJK SC", sans-serif' font-size="13.9" fill="#6e6e6e" letter-spacing="-0.500">IBUS, GND: paralleled current sharing bus</text>
<text transform="translate(719.05 934.10)" font-family='"Liberation Sans", "Noto Sans CJK SC", sans-serif' font-size="15.9" fill="#6e6e6e" font-weight="300" letter-spacing="0.214">5V+，5V−：</text>
<text transform="translate(806.65 934.60)" font-family='"Liberation Sans", "Noto Sans CJK SC", sans-serif' font-size="14.9" fill="#505050" font-weight="300" letter-spacing="0.270">5V辅助电源</text>
<text transform="translate(719.30 950.20)" font-family='"Liberation Sans", "Noto Sans CJK SC", sans-serif' font-size="13.9" fill="#6e6e6e" letter-spacing="-0.517">5V+, 5V−:5V auxiliary power supply</text>
<text transform="translate(718.30 978.10)" font-family='"Liberation Sans", "Noto Sans CJK SC", sans-serif' font-size="15.9" fill="#6e6e6e" font-weight="300" letter-spacing="0.194">ICOM，GND：</text>
<text transform="translate(824.55 978.60)" font-family='"Liberation Sans", "Noto Sans CJK SC", sans-serif' font-size="14.9" fill="#505050" font-weight="300" letter-spacing="0.568">输出电流调节（0-5V）</text>
<text transform="translate(718.55 993.00)" font-family='"Liberation Sans", "Noto Sans CJK SC", sans-serif' font-size="13.9" fill="#6e6e6e" letter-spacing="-0.426">ICOM, GND: output current regulation (0-5V)</text>
<text transform="translate(719.80 1021.80)" font-family='"Liberation Sans", "Noto Sans CJK SC", sans-serif' font-size="15.9" fill="#6e6e6e" font-weight="300" letter-spacing="0.181">VCOM，GND：</text>
<text transform="translate(832.05 1022.30)" font-family='"Liberation Sans", "Noto Sans CJK SC", sans-serif' font-size="14.9" fill="#505050" font-weight="300" letter-spacing="0.514">输出电压调节（0-5V）</text>
<text transform="translate(719.80 1035.50)" font-family='"Liberation Sans", "Noto Sans CJK SC", sans-serif' font-size="13.9" fill="#6e6e6e" letter-spacing="-0.432">VCOM, GND: output voltage regulation (0-5V)</text>
<text transform="translate(718.30 1065.80)" font-family='"Liberation Sans", "Noto Sans CJK SC", sans-serif' font-size="15.9" fill="#6e6e6e" font-weight="300" letter-spacing="0.206">IOUT，GND：</text>
<text transform="translate(820.65 1066.30)" font-family='"Liberation Sans", "Noto Sans CJK SC", sans-serif' font-size="14.9" fill="#505050" font-weight="300" letter-spacing="-0.180">输出电流信号</text>
<text transform="translate(718.55 1079.80)" font-family='"Liberation Sans", "Noto Sans CJK SC", sans-serif' font-size="13.9" fill="#6e6e6e" letter-spacing="-0.469">IOUT, GND: output current signal</text>
<text transform="translate(121.60 124.80) scale(0.8000 1)" font-family='"Liberation Serif", "Noto Serif CJK SC", serif' font-size="16.2" fill="#3c3c3c" letter-spacing="1.500">L1+</text>
<text transform="translate(121.60 148.90) scale(0.8000 1)" font-family='"Liberation Serif", "Noto Serif CJK SC", serif' font-size="16.2" fill="#3c3c3c" letter-spacing="1.750">L2</text>
<text transform="translate(121.60 173.60) scale(0.8000 1)" font-family='"Liberation Serif", "Noto Serif CJK SC", serif' font-size="16.2" fill="#3c3c3c" letter-spacing="1.500">L3−</text>
<text transform="translate(124.60 230.20) scale(0.8000 1)" font-family='"Liberation Serif", "Noto Serif CJK SC", serif' font-size="16.2" fill="#3c3c3c" letter-spacing="0.250">FG</text>
<text transform="translate(135.55 195.15)" font-family='"Liberation Serif", "Noto Serif CJK SC", serif' font-size="11.0" fill="#3c3c3c" letter-spacing="1.100">输入</text>
<text transform="translate(135.60 206.80)" font-family='"Liberation Sans", "Noto Sans CJK SC", sans-serif' font-size="10.3" fill="#555" letter-spacing="-0.587">Input</text>
<text transform="translate(195.00 120.80) rotate(90)" font-family='"Liberation Sans", "Noto Sans CJK SC", sans-serif' font-size="10.3" fill="#666" letter-spacing="-0.527">Input filter</text>
<text transform="translate(242.20 123.56) rotate(90) scale(0.8544 1)" font-family='"Liberation Sans", "Noto Sans CJK SC", sans-serif' font-size="10.3" fill="#777">Rectifier</text>
<text transform="translate(290.20 96.50) rotate(90)" font-family='"Liberation Sans", "Noto Sans CJK SC", sans-serif' font-size="7.2" fill="#666" letter-spacing="-0.065">Harmonic suppression circuit</text>
<text transform="translate(337.00 114.50) rotate(90)" font-family='"Liberation Sans", "Noto Sans CJK SC", sans-serif' font-size="10.3" fill="#666" letter-spacing="-0.600">Smoothing filter</text>
<text transform="translate(236.80 252.60) rotate(90)" font-family='"Liberation Sans", "Noto Sans CJK SC", sans-serif' font-size="10.3" fill="#444" letter-spacing="-0.573">Input voltage detection</text>
<text transform="translate(288.60 268.50) rotate(90)" font-family='"Liberation Sans", "Noto Sans CJK SC", sans-serif' font-size="10.3" fill="#444" letter-spacing="-0.546">Control circuit</text>
<text transform="translate(382.35 122.15)" font-family='"Liberation Serif", "Noto Serif CJK SC", serif' font-size="11.0" fill="#3c3c3c" letter-spacing="1.117">电流感应</text>
<text transform="translate(375.18 136.60) scale(0.8478 1)" font-family='"Liberation Sans", "Noto Sans CJK SC", sans-serif' font-size="10.6" fill="#555">Current induction</text>
<text transform="translate(464.70 135.32)" font-family='"Liberation Serif", "Noto Serif CJK SC", serif' font-size="12.9" fill="#3c3c3c" letter-spacing="1.850">开关</text>
<text transform="translate(464.30 158.12)" font-family='"Liberation Serif", "Noto Serif CJK SC", serif' font-size="12.9" fill="#3c3c3c" letter-spacing="2.250">电路</text>
<text transform="translate(444.78 175.40) scale(0.8450 1)" font-family='"Liberation Sans", "Noto Sans CJK SC", sans-serif' font-size="10.6" fill="#555">Switching circuit</text>
<text transform="translate(675.30 135.32)" font-family='"Liberation Serif", "Noto Serif CJK SC", serif' font-size="12.9" fill="#3c3c3c" letter-spacing="1.850">开关</text>
<text transform="translate(674.90 158.12)" font-family='"Liberation Serif", "Noto Serif CJK SC", serif' font-size="12.9" fill="#3c3c3c" letter-spacing="2.250">电路</text>
<text transform="translate(655.37 175.40) scale(0.8583 1)" font-family='"Liberation Sans", "Noto Sans CJK SC", sans-serif' font-size="10.6" fill="#555">Switching circuit</text>
<text transform="translate(523.95 79.75)" font-family='"Liberation Serif", "Noto Serif CJK SC", serif' font-size="11.0" fill="#3c3c3c" letter-spacing="0.950">输入端</text>
<text transform="translate(513.35 91.40) scale(0.8480 1)" font-family='"Liberation Sans", "Noto Sans CJK SC", sans-serif' font-size="10.6" fill="#555">Input terminal</text>
<text transform="translate(666.95 79.75)" font-family='"Liberation Serif", "Noto Serif CJK SC", serif' font-size="11.0" fill="#3c3c3c" letter-spacing="0.950">输出端</text>
<text transform="translate(654.17 91.00) scale(0.8674 1)" font-family='"Liberation Sans", "Noto Sans CJK SC", sans-serif' font-size="10.6" fill="#555">Output terminal</text>
<text transform="translate(585.70 100.35)" font-family='"Liberation Serif", "Noto Serif CJK SC", serif' font-size="11.0" fill="#3c3c3c" letter-spacing="0.850">主变压器</text>
<text transform="translate(574.15 111.80) scale(0.8732 1)" font-family='"Liberation Sans", "Noto Sans CJK SC", sans-serif' font-size="10.6" fill="#555">Main transformer</text>
<text transform="translate(794.20 121.40) scale(0.8000 1)" font-family='"Liberation Serif", "Noto Serif CJK SC", serif' font-size="16.2" fill="#3c3c3c" letter-spacing="-2.250">+V</text>
<text transform="translate(793.60 175.20) scale(0.8000 1)" font-family='"Liberation Serif", "Noto Serif CJK SC", serif' font-size="16.2" fill="#3c3c3c" letter-spacing="-1.500">−V</text>
<text transform="translate(778.35 147.75)" font-family='"Liberation Serif", "Noto Serif CJK SC", serif' font-size="11.0" fill="#3c3c3c" letter-spacing="1.650">输出</text>
<text transform="translate(776.76 159.00) scale(0.8704 1)" font-family='"Liberation Sans", "Noto Sans CJK SC", sans-serif' font-size="10.6" fill="#555">Output</text>
<text transform="translate(464.70 270.32)" font-family='"Liberation Serif", "Noto Serif CJK SC", serif' font-size="12.9" fill="#3c3c3c" letter-spacing="1.700">控制</text>
<text transform="translate(464.30 293.92)" font-family='"Liberation Serif", "Noto Serif CJK SC", serif' font-size="12.9" fill="#3c3c3c" letter-spacing="1.850">电路</text>
<text transform="translate(451.38 308.00) scale(0.8436 1)" font-family='"Liberation Sans", "Noto Sans CJK SC", sans-serif' font-size="10.6" fill="#555">Control circuit</text>
<text transform="translate(517.87 226.80) scale(0.6600 1)" font-family='"Liberation Serif", "Noto Serif CJK SC", serif' font-size="13" fill="#3c3c3c" letter-spacing="0.682">OVP</text>
<text transform="translate(535.15 226.75)" font-family='"Liberation Serif", "Noto Serif CJK SC", serif' font-size="11.0" fill="#3c3c3c" letter-spacing="2.100">电路</text>
<text transform="translate(517.70 240.00)" font-family='"Liberation Sans", "Noto Sans CJK SC", sans-serif' font-size="9.3" fill="#555" letter-spacing="-0.420">OVP circuit</text>
<text transform="translate(517.87 266.80) scale(0.6600 1)" font-family='"Liberation Serif", "Noto Serif CJK SC", serif' font-size="13" fill="#3c3c3c" letter-spacing="1.057">OCP</text>
<text transform="translate(535.15 266.75)" font-family='"Liberation Serif", "Noto Serif CJK SC", serif' font-size="11.0" fill="#3c3c3c" letter-spacing="2.100">电路</text>
<text transform="translate(517.70 277.40)" font-family='"Liberation Sans", "Noto Sans CJK SC", sans-serif' font-size="9.3" fill="#555" letter-spacing="-0.470">OCP circuit</text>
<text transform="translate(690.47 226.80) scale(0.6600 1)" font-family='"Liberation Serif", "Noto Serif CJK SC", serif' font-size="13" fill="#3c3c3c" letter-spacing="0.227">OVP</text>
<text transform="translate(707.50 226.75)" font-family='"Liberation Serif", "Noto Serif CJK SC", serif' font-size="11.0" fill="#3c3c3c" letter-spacing="1.600">感应</text>
<text transform="translate(691.55 236.20)" font-family='"Liberation Sans", "Noto Sans CJK SC", sans-serif' font-size="6.3" fill="#555" letter-spacing="-0.058">OVP induction</text>
<text transform="translate(686.95 266.35)" font-family='"Liberation Serif", "Noto Serif CJK SC", serif' font-size="11.0" fill="#3c3c3c" letter-spacing="0.567">电压调整</text>
<text transform="translate(688.80 274.40)" font-family='"Liberation Sans", "Noto Sans CJK SC", sans-serif' font-size="5.4" fill="#555">Voltage regulation</text>
<text transform="translate(686.95 304.35)" font-family='"Liberation Serif", "Noto Serif CJK SC", serif' font-size="11.0" fill="#3c3c3c" letter-spacing="0.567">电流调整</text>
<text transform="translate(689.55 312.40)" font-family='"Liberation Sans", "Noto Sans CJK SC", sans-serif' font-size="5.4" fill="#555" letter-spacing="-0.088">Current regulation</text>
<text transform="translate(688.10 340.75)" font-family='"Liberation Serif", "Noto Serif CJK SC", serif' font-size="11.0" fill="#3c3c3c" letter-spacing="0.183">均流电路</text>
<text transform="translate(688.55 347.60)" font-family='"Liberation Sans", "Noto Sans CJK SC", sans-serif' font-size="4.6" fill="#555" letter-spacing="-0.089">Current sharing circuit</text>
<text transform="translate(784.99 275.80) scale(0.8424 1)" font-family='"Liberation Serif", "Noto Serif CJK SC", serif' font-size="15.6" fill="#3c3c3c">Vcom</text>
<text transform="translate(786.90 310.80)" font-family='"Liberation Serif", "Noto Serif CJK SC", serif' font-size="15.6" fill="#3c3c3c" letter-spacing="-0.550">Icom</text>
<text transform="translate(786.90 340.40)" font-family='"Liberation Serif", "Noto Serif CJK SC", serif' font-size="15.6" fill="#3c3c3c" letter-spacing="1.017">Ibus</text>
<text transform="translate(786.90 355.60)" font-family='"Liberation Serif", "Noto Serif CJK SC", serif' font-size="15.6" fill="#3c3c3c" letter-spacing="1.433">Iout</text>
<text transform="translate(790.75 410.00)" font-family='"Liberation Serif", "Noto Serif CJK SC", serif' font-size="15.6" fill="#3c3c3c" letter-spacing="-0.220">Alarm+</text>
<text transform="translate(788.75 424.00)" font-family='"Liberation Serif", "Noto Serif CJK SC", serif' font-size="15.6" fill="#3c3c3c" letter-spacing="-0.180">Alarm−</text>
<text transform="translate(790.20 495.40) scale(0.8000 1)" font-family='"Liberation Serif", "Noto Serif CJK SC", serif' font-size="16.2" fill="#3c3c3c" letter-spacing="0.500">5V+</text>
<text transform="translate(790.20 509.20) scale(0.8000 1)" font-family='"Liberation Serif", "Noto Serif CJK SC", serif' font-size="16.2" fill="#3c3c3c" letter-spacing="0.500">5V−</text>
<text transform="translate(578.55 458.75)" font-family='"Liberation Serif", "Noto Serif CJK SC", serif' font-size="11.0" fill="#3c3c3c" letter-spacing="0.925">辅助变压器</text>
<text transform="translate(568.20 470.60) scale(0.8433 1)" font-family='"Liberation Sans", "Noto Sans CJK SC", sans-serif' font-size="10.6" fill="#555">Auxiliary transformer</text>
<text transform="translate(696.30 441.35)" font-family='"Liberation Serif", "Noto Serif CJK SC", serif' font-size="11.0" fill="#3c3c3c" letter-spacing="1.600">报警</text>
<text transform="translate(697.60 447.00) scale(0.8589 1)" font-family='"Liberation Sans", "Noto Sans CJK SC", sans-serif' font-size="9.3" fill="#555">Alarm</text>
<text transform="translate(696.30 466.75)" font-family='"Liberation Serif", "Noto Serif CJK SC", serif' font-size="11.0" fill="#3c3c3c" letter-spacing="2.100">风扇</text>
<text transform="translate(700.05 473.60)" font-family='"Liberation Sans", "Noto Sans CJK SC", sans-serif' font-size="10.0" fill="#555" letter-spacing="-0.100">Fan</text>
<text transform="translate(700.55 496.15)" font-family='"Liberation Serif", "Noto Serif CJK SC", serif' font-size="11.0" fill="#3c3c3c" letter-spacing="1.350">辅助</text>
<text transform="translate(695.20 505.00) scale(0.8689 1)" font-family='"Liberation Sans", "Noto Sans CJK SC", sans-serif' font-size="10.0" fill="#555">Auxiliary</text>
<text transform="translate(115.70 572.40)" font-family='"Liberation Serif", "Noto Serif CJK SC", serif' font-size="10.8" fill="#2a2a2a" letter-spacing="1.000">37</text>
<text transform="translate(187.20 572.40)" font-family='"Liberation Serif", "Noto Serif CJK SC", serif' font-size="10.8" fill="#2a2a2a" letter-spacing="1.325">160±0.5</text>
<text transform="translate(70.80 602.20) rotate(-90)" font-family='"Liberation Serif", "Noto Serif CJK SC", serif' font-size="10.8" fill="#2a2a2a" letter-spacing="-0.600">11.5</text>
<text transform="translate(70.80 624.20) rotate(-90)" font-family='"Liberation Serif", "Noto Serif CJK SC", serif' font-size="10.8" fill="#2a2a2a" letter-spacing="0.550">39</text>
<text transform="translate(339.90 633.80) rotate(-90)" font-family='"Liberation Serif", "Noto Serif CJK SC", serif' font-size="10.8" fill="#2a2a2a" letter-spacing="1.050">61±0.5</text>
<text transform="translate(307.35 653.90)" font-family='"Liberation Serif", "Noto Serif CJK SC", serif' font-size="10.8" fill="#2a2a2a" letter-spacing="0.550">4-M4</text>
<text transform="translate(89.65 664.40)" font-family='"Liberation Sans", "Noto Sans CJK SC", sans-serif' font-size="9.6" fill="#111">I</text>
<text transform="translate(92.35 664.40)" font-family='"Liberation Sans", "Noto Sans CJK SC", sans-serif' font-size="5.6" fill="#111" font-weight="700" letter-spacing="-0.250">ADJ</text>
<text transform="translate(123.20 663.80)" font-family='"Liberation Sans", "Noto Sans CJK SC", sans-serif' font-size="9.6" fill="#111">V</text>
<text transform="translate(128.59 663.80) scale(0.8381 1)" font-family='"Liberation Sans", "Noto Sans CJK SC", sans-serif' font-size="5.6" fill="#111" font-weight="700">ADJ</text>
<text transform="translate(130.75 738.00)" font-family='"Liberation Sans", "Noto Sans CJK SC", sans-serif' font-size="3.6" fill="#2a2a2a" font-weight="700" letter-spacing="0.100">IADJ)</text>
<text transform="translate(154.20 738.00)" font-family='"Liberation Sans", "Noto Sans CJK SC", sans-serif' font-size="3.6" fill="#2a2a2a" font-weight="700" letter-spacing="0.238">VADJ)</text>
<text transform="translate(126.60 775.30)" font-family='"Liberation Sans", "Noto Sans CJK SC", sans-serif' font-size="5.2" fill="#222" font-weight="700" font-style="italic" letter-spacing="-0.100">SKD1200RT-24</text>
<text transform="translate(142.60 798.20) scale(0.6866 1)" font-family='"Liberation Sans", "Noto Sans CJK SC", sans-serif' font-size="5.4" fill="#111" font-weight="700">TDK-Lambda</text>
<text transform="translate(194.90 671.40)" font-family='"Liberation Serif", "Noto Serif CJK SC", serif' font-size="10.8" fill="#2a2a2a" letter-spacing="1.725">240±1</text>
<text transform="translate(68.40 772.80) rotate(-90)" font-family='"Liberation Serif", "Noto Serif CJK SC", serif' font-size="10.8" fill="#2a2a2a" letter-spacing="0.950">150±1</text>
<text transform="translate(340.30 705.13) rotate(-90) scale(0.7294 1)" font-family='"Liberation Serif", "Noto Serif CJK SC", serif' font-size="10.4" fill="#2a2a2a">16.4</text>
<text transform="translate(340.30 780.20) rotate(-90)" font-family='"Liberation Serif", "Noto Serif CJK SC", serif' font-size="10.8" fill="#2a2a2a" letter-spacing="0.175">118.7±0.5</text>
<text transform="translate(115.70 841.20)" font-family='"Liberation Serif", "Noto Serif CJK SC", serif' font-size="10.8" fill="#2a2a2a" letter-spacing="1.000">37</text>
<text transform="translate(187.20 841.20)" font-family='"Liberation Serif", "Noto Serif CJK SC", serif' font-size="10.8" fill="#2a2a2a" letter-spacing="1.325">160±0.5</text>
<text transform="translate(303.75 835.60)" font-family='"Liberation Serif", "Noto Serif CJK SC", serif' font-size="10.8" fill="#2a2a2a" letter-spacing="0.417">4-M4</text>
<text transform="translate(73.80 862.60)" font-family='"Liberation Serif", "Noto Serif CJK SC", serif' font-size="10.8" fill="#2a2a2a" letter-spacing="0.300">18</text>
<text transform="translate(87.35 862.60)" font-family='"Liberation Serif", "Noto Serif CJK SC", serif' font-size="10.8" fill="#2a2a2a" letter-spacing="-0.275">MAX</text>
<text transform="translate(115.70 862.60)" font-family='"Liberation Serif", "Noto Serif CJK SC", serif' font-size="10.8" fill="#2a2a2a" letter-spacing="1.000">37</text>
<text transform="translate(187.20 862.60)" font-family='"Liberation Serif", "Noto Serif CJK SC", serif' font-size="10.8" fill="#2a2a2a" letter-spacing="1.325">160±0.5</text>
<text transform="translate(70.80 910.30) rotate(-90)" font-family='"Liberation Serif", "Noto Serif CJK SC", serif' font-size="10.8" fill="#2a2a2a" letter-spacing="0.050">39</text>
<text transform="translate(70.80 935.60) rotate(-90)" font-family='"Liberation Serif", "Noto Serif CJK SC", serif' font-size="10.8" fill="#2a2a2a" letter-spacing="-0.600">11.5</text>
<text transform="translate(78.60 962.10) rotate(-90)" font-family='"Liberation Serif", "Noto Serif CJK SC", serif' font-size="10.8" fill="#2a2a2a" letter-spacing="-0.387">(8.2)</text>
<text transform="translate(301.95 947.60)" font-family='"Liberation Serif", "Noto Serif CJK SC", serif' font-size="10.8" fill="#2a2a2a" letter-spacing="0.683">4-M4</text>
<text transform="translate(450.00 654.19) rotate(-90) scale(0.7784 1)" font-family='"Liberation Sans", "Noto Sans CJK SC", sans-serif' font-size="4.8" fill="#111" font-weight="700">CN5</text>
<text transform="translate(440.60 589.20)" font-family='"Liberation Serif", "Noto Serif CJK SC", serif' font-size="10.8" fill="#2a2a2a" letter-spacing="0.567">17.7</text>
<text transform="translate(468.40 589.20)" font-family='"Liberation Serif", "Noto Serif CJK SC", serif' font-size="10.8" fill="#2a2a2a" letter-spacing="-0.150">11</text>
<text transform="translate(485.20 589.20)" font-family='"Liberation Serif", "Noto Serif CJK SC", serif' font-size="10.8" fill="#2a2a2a" letter-spacing="-0.150">11</text>
<text transform="translate(503.00 589.20)" font-family='"Liberation Serif", "Noto Serif CJK SC", serif' font-size="10.8" fill="#2a2a2a" letter-spacing="-0.350">11</text>
<text transform="translate(553.55 587.20)" font-family='"Liberation Serif", "Noto Serif CJK SC", serif' font-size="10.8" fill="#2a2a2a" letter-spacing="0.085">INPUT TERMINAL</text>
<text transform="translate(553.00 645.50) rotate(-90)" font-family='"Liberation Serif", "Noto Serif CJK SC", serif' font-size="10.8" fill="#2a2a2a" letter-spacing="0.867">(19)</text>
<text transform="translate(403.00 721.30) rotate(-90)" font-family='"Liberation Serif", "Noto Serif CJK SC", serif' font-size="10.8" fill="#2a2a2a" letter-spacing="0.783">(101.5)</text>
<text transform="translate(404.60 792.30) rotate(-90)" font-family='"Liberation Serif", "Noto Serif CJK SC", serif' font-size="10.8" fill="#2a2a2a" letter-spacing="0.050">11</text>
<text transform="translate(404.60 809.50) rotate(-90)" font-family='"Liberation Serif", "Noto Serif CJK SC", serif' font-size="10.8" fill="#2a2a2a" letter-spacing="0.050">11</text>
<text transform="translate(404.60 826.80) rotate(-90)" font-family='"Liberation Serif", "Noto Serif CJK SC", serif' font-size="10.8" fill="#2a2a2a" letter-spacing="0.050">11</text>
<text transform="translate(451.40 693.24) rotate(90) scale(-0.9474 1)" font-family='"Liberation Sans", "Noto Sans CJK SC", sans-serif' font-size="5.0" fill="#222" font-weight="700">CN3</text>
<text transform="translate(446.20 693.23) rotate(90) scale(-0.9231 1)" font-family='"Liberation Sans", "Noto Sans CJK SC", sans-serif' font-size="5.0" fill="#222" font-weight="700">CN4</text>
<text transform="translate(484.60 705.85) rotate(-90)" font-family='"Liberation Sans", "Noto Sans CJK SC", sans-serif' font-size="3.6" fill="#222" font-weight="700" letter-spacing="0.125">CN2</text>
<text transform="translate(520.60 700.17) rotate(90) scale(0.9185 1)" font-family='"Liberation Sans", "Noto Sans CJK SC", sans-serif' font-size="3.6" fill="#222" font-weight="700">CN1</text>
<text transform="translate(550.75 667.70)" font-family='"Liberation Serif", "Noto Serif CJK SC", serif' font-size="10.8" fill="#2a2a2a" letter-spacing="0.750">FG</text>
<text transform="translate(550.35 681.70)" font-family='"Liberation Serif", "Noto Serif CJK SC", serif' font-size="10.8" fill="#2a2a2a" letter-spacing="0.675">L1+</text>
<text transform="translate(550.35 697.80)" font-family='"Liberation Serif", "Noto Serif CJK SC", serif' font-size="10.8" fill="#2a2a2a" letter-spacing="0.550">L2</text>
<text transform="translate(550.35 712.80)" font-family='"Liberation Serif", "Noto Serif CJK SC", serif' font-size="10.8" fill="#2a2a2a" letter-spacing="0.375">L3−</text>
<text transform="translate(446.80 782.60) rotate(-90)" font-family='"Liberation Sans", "Noto Sans CJK SC", sans-serif' font-size="5.2" fill="#222" font-weight="700">V</text>
<text transform="translate(446.80 799.90) rotate(-90)" font-family='"Liberation Sans", "Noto Sans CJK SC", sans-serif' font-size="5.2" fill="#222" font-weight="700">V</text>
<text transform="translate(446.80 817.10) rotate(-90)" font-family='"Liberation Sans", "Noto Sans CJK SC", sans-serif' font-size="5.2" fill="#222" font-weight="700">V</text>
<text transform="translate(446.80 834.60) rotate(-90)" font-family='"Liberation Sans", "Noto Sans CJK SC", sans-serif' font-size="5.2" fill="#222" font-weight="700">V</text>
<text transform="translate(438.40 798.78) rotate(90) scale(0.8952 1)" font-family='"Liberation Sans", "Noto Sans CJK SC", sans-serif' font-size="5.4" fill="#222" font-weight="700">CN6</text>
<text transform="translate(555.70 750.40)" font-family='"Liberation Serif", "Noto Serif CJK SC", serif' font-size="10.8" fill="#2a2a2a" letter-spacing="0.550">+V</text>
<text transform="translate(555.70 770.40)" font-family='"Liberation Serif", "Noto Serif CJK SC", serif' font-size="10.8" fill="#2a2a2a" letter-spacing="0.550">+V</text>
<text transform="translate(555.70 791.20)" font-family='"Liberation Serif", "Noto Serif CJK SC", serif' font-size="10.8" fill="#2a2a2a" letter-spacing="0.550">−V</text>
<text transform="translate(555.70 808.00)" font-family='"Liberation Serif", "Noto Serif CJK SC", serif' font-size="10.8" fill="#2a2a2a" letter-spacing="0.550">−V</text>
<text transform="translate(395.70 874.40)" font-family='"Liberation Serif", "Noto Serif CJK SC", serif' font-size="10.8" fill="#2a2a2a" letter-spacing="0.750">(18.7)</text>
<text transform="translate(521.30 883.00)" font-family='"Liberation Serif", "Noto Serif CJK SC", serif' font-size="10.8" fill="#2a2a2a" letter-spacing="0.200">OUTPUT TERMINAL</text>
<text transform="translate(347.60 772.00)" font-family='"Liberation Serif", "Noto Serif CJK SC", serif' font-size="10.8" fill="#2a2a2a" letter-spacing="-0.086">AIR FLOW</text>
<text transform="translate(390.93 914.90) scale(0.9000 1)" font-family='"Liberation Sans", "Noto Sans CJK SC", sans-serif' font-size="8.8" fill="#0a0a0a">I</text>
<text transform="translate(393.35 914.90) scale(0.8980 1)" font-family='"Liberation Sans", "Noto Sans CJK SC", sans-serif' font-size="6.3" fill="#0a0a0a">BUS</text>
<text transform="translate(410.15 914.90) scale(0.9067 1)" font-family='"Liberation Sans", "Noto Sans CJK SC", sans-serif' font-size="8.8" fill="#0a0a0a">GND</text>
<text transform="translate(435.32 914.90) scale(0.9000 1)" font-family='"Liberation Sans", "Noto Sans CJK SC", sans-serif' font-size="8.8" fill="#0a0a0a">I</text>
<text transform="translate(437.75 914.90) scale(0.8980 1)" font-family='"Liberation Sans", "Noto Sans CJK SC", sans-serif' font-size="6.3" fill="#0a0a0a">BUS</text>
<text transform="translate(452.16 914.90) scale(0.8747 1)" font-family='"Liberation Sans", "Noto Sans CJK SC", sans-serif' font-size="8.8" fill="#0a0a0a">GND</text>
<text transform="translate(478.20 907.70)" font-family='"Liberation Sans", "Noto Sans CJK SC", sans-serif' font-size="8.8" fill="#0a0a0a" letter-spacing="0.290">Alarm+</text>
<text transform="translate(513.60 907.70)" font-family='"Liberation Sans", "Noto Sans CJK SC", sans-serif' font-size="8.8" fill="#0a0a0a" letter-spacing="0.490">Alarm−</text>
<text transform="translate(549.80 907.70)" font-family='"Liberation Sans", "Noto Sans CJK SC", sans-serif' font-size="8.8" fill="#0a0a0a" letter-spacing="0.330">Alarm+</text>
<text transform="translate(585.20 907.70)" font-family='"Liberation Sans", "Noto Sans CJK SC", sans-serif' font-size="8.8" fill="#0a0a0a" letter-spacing="0.570">Alarm−</text>
<text transform="translate(508.90 919.50)" font-family='"Liberation Sans", "Noto Sans CJK SC", sans-serif' font-size="8.8" fill="#0a0a0a" letter-spacing="0.100">5V−</text>
<text transform="translate(528.90 919.50)" font-family='"Liberation Sans", "Noto Sans CJK SC", sans-serif' font-size="8.8" fill="#0a0a0a" letter-spacing="0.200">5V+</text>
<text transform="translate(580.50 919.50)" font-family='"Liberation Sans", "Noto Sans CJK SC", sans-serif' font-size="8.8" fill="#0a0a0a" letter-spacing="0.100">5V−</text>
<text transform="translate(600.50 919.50)" font-family='"Liberation Sans", "Noto Sans CJK SC", sans-serif' font-size="8.8" fill="#0a0a0a" letter-spacing="0.300">5V+</text>
<text transform="translate(470.52 987.00) scale(0.9000 1)" font-family='"Liberation Sans", "Noto Sans CJK SC", sans-serif' font-size="8.8" fill="#0a0a0a">I</text>
<text transform="translate(473.35 987.00)" font-family='"Liberation Sans", "Noto Sans CJK SC", sans-serif' font-size="6.3" fill="#0a0a0a" letter-spacing="-0.300">COM</text>
<text transform="translate(490.00 987.00)" font-family='"Liberation Sans", "Noto Sans CJK SC", sans-serif' font-size="8.8" fill="#0a0a0a">V</text>
<text transform="translate(494.75 987.00)" font-family='"Liberation Sans", "Noto Sans CJK SC", sans-serif' font-size="6.3" fill="#0a0a0a" letter-spacing="-0.300">COM</text>
<text transform="translate(512.12 987.00) scale(0.9000 1)" font-family='"Liberation Sans", "Noto Sans CJK SC", sans-serif' font-size="8.8" fill="#0a0a0a">I</text>
<text transform="translate(514.97 987.00) scale(0.9077 1)" font-family='"Liberation Sans", "Noto Sans CJK SC", sans-serif' font-size="6.3" fill="#0a0a0a">OUT</text>
<text transform="translate(531.19 987.00) scale(0.8213 1)" font-family='"Liberation Sans", "Noto Sans CJK SC", sans-serif' font-size="8.8" fill="#0a0a0a">GND</text>
<text transform="translate(556.83 987.00) scale(0.9000 1)" font-family='"Liberation Sans", "Noto Sans CJK SC", sans-serif' font-size="8.8" fill="#0a0a0a">I</text>
<text transform="translate(559.65 987.00)" font-family='"Liberation Sans", "Noto Sans CJK SC", sans-serif' font-size="6.3" fill="#0a0a0a" letter-spacing="-0.300">COM</text>
<text transform="translate(576.30 987.00)" font-family='"Liberation Sans", "Noto Sans CJK SC", sans-serif' font-size="8.8" fill="#0a0a0a">V</text>
<text transform="translate(581.05 987.00)" font-family='"Liberation Sans", "Noto Sans CJK SC", sans-serif' font-size="6.3" fill="#0a0a0a" letter-spacing="-0.300">COM</text>
<text transform="translate(598.42 987.00) scale(0.9000 1)" font-family='"Liberation Sans", "Noto Sans CJK SC", sans-serif' font-size="8.8" fill="#0a0a0a">I</text>
<text transform="translate(601.27 987.00) scale(0.9077 1)" font-family='"Liberation Sans", "Noto Sans CJK SC", sans-serif' font-size="6.3" fill="#0a0a0a">OUT</text>
<text transform="translate(617.49 987.00) scale(0.8213 1)" font-family='"Liberation Sans", "Noto Sans CJK SC", sans-serif' font-size="8.8" fill="#0a0a0a">GND</text>
</svg>
</body>
</html>
